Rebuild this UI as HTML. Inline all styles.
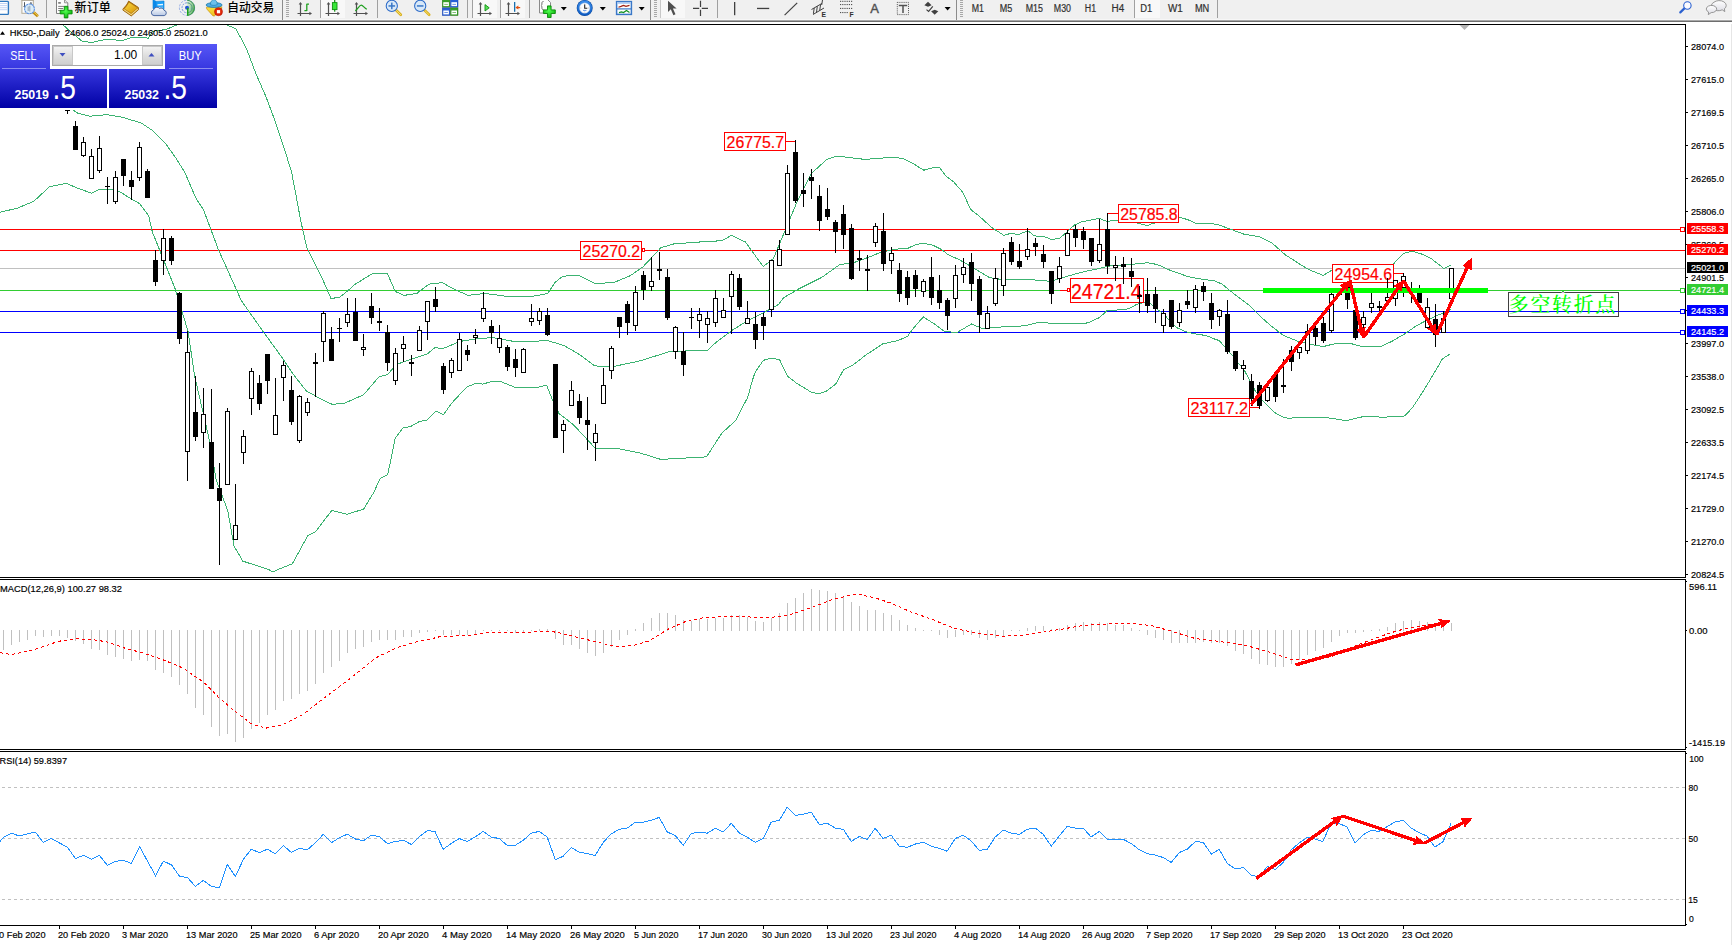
<!DOCTYPE html>
<html><head><meta charset="utf-8"><title>HK50-,Daily</title>
<style>
html,body{margin:0;padding:0;background:#fff;}
body{width:1732px;height:945px;overflow:hidden;position:relative;}
svg{position:absolute;left:0;top:0;display:block;font-family:'Liberation Sans','Noto Sans CJK SC',sans-serif;}
</style></head>
<body>
<svg width="1732" height="945" viewBox="0 0 1732 945">
<defs>
<clipPath id="mainclip"><rect x="0" y="25" width="1685" height="552"/></clipPath>
<clipPath id="macdclip"><rect x="0" y="580" width="1685" height="169"/></clipPath>
<clipPath id="rsiclip"><rect x="0" y="752" width="1685" height="173"/></clipPath>
<linearGradient id="pg" x1="0" y1="0" x2="0" y2="1"><stop offset="0" stop-color="#5656f6"/><stop offset="0.35" stop-color="#3a3ae2"/><stop offset="1" stop-color="#0000a4"/></linearGradient>
<linearGradient id="bg" x1="0" y1="0" x2="0" y2="1"><stop offset="0" stop-color="#f4f4f4"/><stop offset="0.5" stop-color="#dedede"/><stop offset="1" stop-color="#cfcfcf"/></linearGradient>
<linearGradient id="gbook" x1="0" y1="0" x2="1" y2="1"><stop offset="0" stop-color="#f8d840"/><stop offset="1" stop-color="#d89408"/></linearGradient>
<linearGradient id="gcloud" x1="0" y1="0" x2="0" y2="1"><stop offset="0" stop-color="#ffffff"/><stop offset="1" stop-color="#b8c8e4"/></linearGradient>
<linearGradient id="gsig" x1="0" y1="0" x2="1" y2="0.6"><stop offset="0" stop-color="#e8f4e8" stop-opacity="0.6"/><stop offset="1" stop-color="#48a850"/></linearGradient>
<linearGradient id="gface" x1="0" y1="0" x2="0.3" y2="1"><stop offset="0" stop-color="#f8e448"/><stop offset="1" stop-color="#f0c020"/></linearGradient>
<linearGradient id="gclock" x1="0" y1="0" x2="0" y2="1"><stop offset="0" stop-color="#3a90f0"/><stop offset="1" stop-color="#0c58c0"/></linearGradient>
<linearGradient id="gbub" x1="0" y1="0" x2="0" y2="1"><stop offset="0" stop-color="#ffffff"/><stop offset="1" stop-color="#dcdce4"/></linearGradient>
<radialGradient id="gplus" cx="0.45" cy="0.4" r="0.6"><stop offset="0" stop-color="#50ff50"/><stop offset="1" stop-color="#10b810"/></radialGradient>
</defs>
<rect x="0" y="0" width="1732" height="945" fill="#fff"/>
<g clip-path="url(#mainclip)">
<g shape-rendering="crispEdges">
<rect x="0" y="229" width="1685" height="1" fill="#ff0000" />
<rect x="0" y="250" width="1685" height="1" fill="#ff0000" />
<rect x="0" y="268" width="1685" height="1" fill="#c0c0c0" />
<rect x="0" y="290" width="1685" height="1" fill="#32cd32" />
<rect x="0" y="311" width="1685" height="1" fill="#0000ff" />
<rect x="0" y="332" width="1685" height="1" fill="#0000ff" />
</g>
<g shape-rendering="crispEdges">
<polyline points="50,10 62.9,24.8 72.4,33.3 81.9,41 91.5,42.5 106.7,39.1 121.9,40.6 133.4,37.1 148.6,38.1 152.4,31.4 165.8,29.5 177.2,24.8 200,12 226.6,25 235.7,28.5 246.3,48.2 255.4,72.4 265.9,96.6 275,120.8 284.1,148 291.6,172.2 296.2,196.4 300.7,220.6 306.8,247.8 314.3,262.9 323.4,281 331,298.6 340,297.1 348.1,290.5 354.6,284.6 372.3,273.6 387.5,273.6 395.2,291.4 404.1,295.4 417,293.3 428.8,284.2 442.3,282.6 452.4,288.4 467.7,295.3 485.5,293.5 508.3,296.6 531.2,296.6 547.7,293.5 555.3,282.1 563,276.2 578.2,275.2 596,283.9 615,282.1 630.3,275.7 643,266.8 660.8,247.8 673.5,244 696.3,242.2 721.7,240.7 731.6,235.3 745.4,242 763.2,266.6 773.4,258.5 783.5,234.3 796.2,203.8 811.5,173.4 826.7,159.4 836.9,156.1 864.8,159.4 877.5,158.5 880,158.7 887.6,157.1 895.2,157.1 904.1,159.1 913,163.5 923.8,170.2 930.8,168.2 939.1,167.1 946,176.2 953.7,181.9 962.6,192.1 970.8,209.6 977.8,214.9 991.8,227.6 1003.8,235.3 1010.8,233.4 1018.4,234.6 1028,230.8 1034.3,235.9 1043.8,236.5 1051.5,239.5 1059.7,238.2 1065.4,233.4 1074.3,225.1 1082,221.7 1090.8,220 1099.8,218.4 1103.1,220 1107.8,221.8 1112,220.5 1118,220.5 1128,221.5 1138.2,223.3 1143.1,224.6 1147.3,225.7 1151.5,223.8 1154,223.3 1165,219.5 1179,217.3 1184.2,218.6 1190,220.5 1196.1,223.4 1216.4,224.1 1229.1,228.7 1244.3,234.3 1259.6,236.8 1272.3,243.2 1285,254.6 1302.8,266.1 1310,270.1 1323.2,275.4 1331.2,270.6 1345,268 1360,272 1375,272 1393.6,263.8 1403.1,253.7 1411.6,251.1 1422.2,254.2 1431.7,259 1443.9,268.5 1450.7,265.3" fill="none" stroke="#3cb371" stroke-width="1" />
<polyline points="73,110 78.1,113.4 89.6,116.2 106.7,114.7 122,117.2 141,122.9 152.4,130.5 165.8,143.9 175.3,157.2 184.8,172.4 196.3,199.1 203.3,209.2 218.5,249.9 241.4,300.7 262,330 282.3,357.9 292.4,373.2 306.4,391 317.8,397.3 331.8,404.2 343.3,403.7 363.6,394.8 378.8,377 387.7,374.5 396.6,364.3 411.8,359.2 427.1,354.1 434.7,347.8 443.6,348.3 460.1,341.4 475.4,338.9 491.9,337.6 500.8,338.9 516,341.9 531.3,341.9 546.5,340.2 564.2,345.6 579.5,354.5 594.7,365.9 612.5,366.7 640.4,360.8 668.4,351.9 691.3,350.7 707.6,350.4 716.5,341.9 731.8,330.5 747,321 763.5,312.7 778.7,304.4 783.5,297.8 798.8,288.9 821.6,277.5 839.4,264.8 854.7,262.3 872.4,255.9 880,252.4 895.2,249.2 907.9,248.3 914.3,245.2 923.2,243.1 933.3,245.4 941,249.2 948.6,255 958.8,259.4 963.9,262.3 976.6,269.9 989.3,277.5 1004.6,280 1019.8,279.5 1035,280 1050.3,281.3 1063,277.5 1080.8,272.4 1098.6,268.6 1108.7,266.1 1126.5,264.8 1146.8,262.8 1152.9,263.5 1161,266 1169.4,270 1178.9,273.2 1187.4,276.6 1201.1,279 1214.9,280.9 1222.3,284.3 1230.7,291.2 1240.3,298.6 1248.7,304.9 1259.3,315.5 1270,325 1283.4,335.5 1298.5,341.5 1311.5,344.6 1323.1,346.6 1335.7,343.5 1351.3,343.7 1362.9,346.8 1382,346.1 1392.5,341 1405.2,333.6 1415.8,326.2 1426.4,320.4 1437,315.6 1444.4,312.4 1450.7,309.8" fill="none" stroke="#3cb371" stroke-width="1" />
<polyline points="0,212.3 17.8,208 33,201.6 36.2,199.1 49.5,186.7 66.7,183.3 76.2,187.7 91.5,193.1 99.1,189.6 114.3,189.2 119.4,191.5 131.5,199.1 139.7,203.7 148.6,215.6 152.4,232.1 162.6,257.5 175.3,289.3 188,331.2 194.6,375.7 208.6,436.7 216.2,479.9 227.7,510.4 234,546 242.9,561.2 268.3,569.3 273,572 278.5,569.3 292.4,563.7 307.7,535.8 315.3,532 331.8,510.4 347.1,514.2 363.6,509.1 373.7,492.6 380.1,478.6 387.7,474.8 395.3,438 403,427.8 410.6,426.5 419.5,421.5 427.1,420.2 436,411.3 443.6,414.6 451.2,403.7 466.5,387.2 475.4,383.4 483,384.1 491.9,381.3 500.8,381.6 514.8,387.2 536.3,387.7 546.5,385.1 552.9,401.1 559.2,413.8 573.1,424.4 596,449 615,448 640.4,453.1 660.8,459.4 706.5,456.9 721.7,433.3 736.2,420 741.9,408 747.6,397.8 752.1,381.3 754.6,373.7 758.4,367.3 763.5,360.3 769.9,358.4 779.4,359.3 787.6,376.2 796.5,383.2 811.8,392.5 819.4,393.6 827,390.8 835.9,383.8 843.5,369.9 852.4,365.4 866.4,354.6 882.9,343.8 898.1,340.6 907.7,336.2 912.1,329.8 923.3,316.9 933.4,323.3 943.6,330.9 956.3,332.9 971.5,324 981.7,328.3 999.5,327.1 1024.9,325.8 1037.6,322.7 1057.9,323.3 1083.3,324 1090,321.9 1099.5,317.6 1106.9,310.7 1126,309.4 1132.3,307 1136.6,304.4 1142.9,302.8 1145,302.3 1150.3,303.3 1157.7,309.7 1164.1,314.4 1170.4,321.9 1176.8,327.7 1185.2,331.4 1192.6,333.5 1206.4,335.6 1215,339.2 1219,340.5 1225.1,347.1 1232.1,355.1 1239.1,364.2 1243.7,369.2 1249.7,380.2 1255.2,390.8 1262.3,400.4 1269.3,407.4 1275.3,412.9 1283.4,417.4 1289.4,418.5 1295.4,417.4 1325.6,417.4 1335.7,419 1346,420.7 1363.7,416.5 1384.1,417.2 1404.4,416 1412,408.3 1419.6,396.9 1429.8,380.4 1442.5,358.8 1450.6,353.7" fill="none" stroke="#3cb371" stroke-width="1" />
</g>
<rect x="786" y="141" width="10" height="1" fill="#ff0000" shape-rendering="crispEdges"/>
<rect x="724.5" y="132.5" width="61" height="18" fill="#fff" stroke="#ff0000" stroke-width="1" shape-rendering="crispEdges"/>
<text x="726.6" y="148" font-size="16.8" fill="#ff0000" text-anchor="start" textLength="57.5" lengthAdjust="spacingAndGlyphs" stroke="#ff0000" stroke-width="0.2">26775.7</text>
<rect x="580.5" y="241.5" width="61" height="18" fill="#fff" stroke="#ff0000" stroke-width="1" shape-rendering="crispEdges"/>
<text x="582.6" y="257" font-size="16.8" fill="#ff0000" text-anchor="start" textLength="57.5" lengthAdjust="spacingAndGlyphs" stroke="#ff0000" stroke-width="0.2">25270.2</text>
<rect x="1108" y="213" width="10" height="1" fill="#ff0000" shape-rendering="crispEdges"/>
<rect x="1118.5" y="204.5" width="60" height="18" fill="#fff" stroke="#ff0000" stroke-width="1" shape-rendering="crispEdges"/>
<text x="1120.2" y="220" font-size="16.8" fill="#ff0000" text-anchor="start" textLength="57.5" lengthAdjust="spacingAndGlyphs" stroke="#ff0000" stroke-width="0.2">25785.8</text>
<rect x="1250" y="407" width="10" height="1" fill="#ff0000" shape-rendering="crispEdges"/>
<rect x="1188.5" y="398.5" width="61" height="18" fill="#fff" stroke="#ff0000" stroke-width="1" shape-rendering="crispEdges"/>
<text x="1190.6" y="414" font-size="16.8" fill="#ff0000" text-anchor="start" textLength="57.5" lengthAdjust="spacingAndGlyphs" stroke="#ff0000" stroke-width="0.2">23117.2</text>
<rect x="1394" y="273" width="10" height="1" fill="#ff0000" shape-rendering="crispEdges"/>
<rect x="1332.5" y="264.5" width="61" height="18" fill="#fff" stroke="#ff0000" stroke-width="1" shape-rendering="crispEdges"/>
<text x="1334.6" y="280" font-size="16.8" fill="#ff0000" text-anchor="start" textLength="57.5" lengthAdjust="spacingAndGlyphs" stroke="#ff0000" stroke-width="0.2">24954.6</text>
<rect x="1060" y="290" width="8" height="1" fill="#ff0000" shape-rendering="crispEdges"/>
<rect x="1067.5" y="288.5" width="2" height="3" fill="#fff" stroke="#ff0000" shape-rendering="crispEdges"/>
<rect x="1070.5" y="278.5" width="73" height="24" fill="#fff" stroke="#ff0000" stroke-width="1" shape-rendering="crispEdges"/>
<text x="1071.0" y="298.7" font-size="21.9" fill="#ff0000" text-anchor="start" textLength="70.5" lengthAdjust="spacingAndGlyphs" stroke="#ff0000" stroke-width="0.2">24721.4</text>
<rect x="642.5" y="248.5" width="2" height="3" fill="#fff" stroke="#ff0000" shape-rendering="crispEdges"/>
<g shape-rendering="crispEdges">
<rect x="67" y="110" width="1" height="4" fill="#000" />
<rect x="65" y="110" width="5" height="1" fill="#000" />
<rect x="75" y="121" width="1" height="29" fill="#000" />
<rect x="73" y="126" width="5" height="24" fill="#000" />
<rect x="83" y="137" width="1" height="20" fill="#000" />
<rect x="81" y="142" width="5" height="14" fill="#000" />
<rect x="82" y="143" width="3" height="12" fill="#fff" />
<rect x="91" y="149" width="1" height="30" fill="#000" />
<rect x="89" y="156" width="5" height="23" fill="#000" />
<rect x="90" y="157" width="3" height="21" fill="#fff" />
<rect x="99" y="136" width="1" height="37" fill="#000" />
<rect x="97" y="148" width="5" height="23" fill="#000" />
<rect x="98" y="149" width="3" height="21" fill="#fff" />
<rect x="107" y="177" width="1" height="27" fill="#000" />
<rect x="105" y="186" width="5" height="1" fill="#000" />
<rect x="115" y="171" width="1" height="33" fill="#000" />
<rect x="113" y="177" width="5" height="25" fill="#000" />
<rect x="114" y="178" width="3" height="23" fill="#fff" />
<rect x="123" y="159" width="1" height="27" fill="#000" />
<rect x="121" y="159" width="5" height="17" fill="#000" />
<rect x="131" y="171" width="1" height="29" fill="#000" />
<rect x="129" y="180" width="5" height="7" fill="#000" />
<rect x="139" y="142" width="1" height="39" fill="#000" />
<rect x="137" y="147" width="5" height="31" fill="#000" />
<rect x="138" y="148" width="3" height="29" fill="#fff" />
<rect x="147" y="169" width="1" height="29" fill="#000" />
<rect x="145" y="171" width="5" height="27" fill="#000" />
<rect x="155" y="250" width="1" height="36" fill="#000" />
<rect x="153" y="260" width="5" height="22" fill="#000" />
<rect x="163" y="229" width="1" height="46" fill="#000" />
<rect x="161" y="238" width="5" height="23" fill="#000" />
<rect x="162" y="239" width="3" height="21" fill="#fff" />
<rect x="171" y="236" width="1" height="29" fill="#000" />
<rect x="169" y="238" width="5" height="23" fill="#000" />
<rect x="179" y="292" width="1" height="52" fill="#000" />
<rect x="177" y="293" width="5" height="46" fill="#000" />
<rect x="187" y="331" width="1" height="150" fill="#000" />
<rect x="185" y="352" width="5" height="100" fill="#000" />
<rect x="186" y="353" width="3" height="98" fill="#fff" />
<rect x="195" y="376" width="1" height="65" fill="#000" />
<rect x="193" y="412" width="5" height="25" fill="#000" />
<rect x="203" y="388" width="1" height="60" fill="#000" />
<rect x="201" y="414" width="5" height="19" fill="#000" />
<rect x="202" y="415" width="3" height="17" fill="#fff" />
<rect x="211" y="389" width="1" height="100" fill="#000" />
<rect x="209" y="442" width="5" height="47" fill="#000" />
<rect x="219" y="463" width="1" height="102" fill="#000" />
<rect x="217" y="488" width="5" height="13" fill="#000" />
<rect x="227" y="408" width="1" height="77" fill="#000" />
<rect x="225" y="411" width="5" height="74" fill="#000" />
<rect x="226" y="412" width="3" height="72" fill="#fff" />
<rect x="235" y="484" width="1" height="56" fill="#000" />
<rect x="233" y="525" width="5" height="15" fill="#000" />
<rect x="234" y="526" width="3" height="13" fill="#fff" />
<rect x="243" y="430" width="1" height="34" fill="#000" />
<rect x="241" y="436" width="5" height="17" fill="#000" />
<rect x="242" y="437" width="3" height="15" fill="#fff" />
<rect x="251" y="368" width="1" height="47" fill="#000" />
<rect x="249" y="371" width="5" height="28" fill="#000" />
<rect x="250" y="372" width="3" height="26" fill="#fff" />
<rect x="259" y="375" width="1" height="35" fill="#000" />
<rect x="257" y="383" width="5" height="21" fill="#000" />
<rect x="267" y="354" width="1" height="40" fill="#000" />
<rect x="265" y="354" width="5" height="27" fill="#000" />
<rect x="275" y="378" width="1" height="57" fill="#000" />
<rect x="273" y="415" width="5" height="20" fill="#000" />
<rect x="274" y="416" width="3" height="18" fill="#fff" />
<rect x="283" y="361" width="1" height="40" fill="#000" />
<rect x="281" y="365" width="5" height="13" fill="#000" />
<rect x="282" y="366" width="3" height="11" fill="#fff" />
<rect x="291" y="376" width="1" height="49" fill="#000" />
<rect x="289" y="390" width="5" height="32" fill="#000" />
<rect x="299" y="395" width="1" height="48" fill="#000" />
<rect x="297" y="396" width="5" height="45" fill="#000" />
<rect x="298" y="397" width="3" height="43" fill="#fff" />
<rect x="307" y="398" width="1" height="18" fill="#000" />
<rect x="305" y="402" width="5" height="11" fill="#000" />
<rect x="306" y="403" width="3" height="9" fill="#fff" />
<rect x="315" y="353" width="1" height="44" fill="#000" />
<rect x="313" y="362" width="5" height="2" fill="#000" />
<rect x="323" y="311" width="1" height="51" fill="#000" />
<rect x="321" y="313" width="5" height="29" fill="#000" />
<rect x="322" y="314" width="3" height="27" fill="#fff" />
<rect x="331" y="327" width="1" height="34" fill="#000" />
<rect x="329" y="339" width="5" height="22" fill="#000" />
<rect x="339" y="318" width="1" height="24" fill="#000" />
<rect x="337" y="328" width="5" height="1" fill="#000" />
<rect x="347" y="298" width="1" height="29" fill="#000" />
<rect x="345" y="314" width="5" height="9" fill="#000" />
<rect x="346" y="315" width="3" height="7" fill="#fff" />
<rect x="355" y="298" width="1" height="43" fill="#000" />
<rect x="353" y="312" width="5" height="29" fill="#000" />
<rect x="363" y="334" width="1" height="22" fill="#000" />
<rect x="361" y="347" width="5" height="3" fill="#000" />
<rect x="362" y="348" width="3" height="1" fill="#fff" />
<rect x="371" y="293" width="1" height="31" fill="#000" />
<rect x="369" y="306" width="5" height="12" fill="#000" />
<rect x="379" y="308" width="1" height="23" fill="#000" />
<rect x="377" y="321" width="5" height="2" fill="#000" />
<rect x="387" y="325" width="1" height="46" fill="#000" />
<rect x="385" y="332" width="5" height="31" fill="#000" />
<rect x="395" y="348" width="1" height="37" fill="#000" />
<rect x="393" y="353" width="5" height="28" fill="#000" />
<rect x="394" y="354" width="3" height="26" fill="#fff" />
<rect x="403" y="336" width="1" height="26" fill="#000" />
<rect x="401" y="344" width="5" height="5" fill="#000" />
<rect x="402" y="345" width="3" height="3" fill="#fff" />
<rect x="411" y="355" width="1" height="21" fill="#000" />
<rect x="409" y="362" width="5" height="2" fill="#000" />
<rect x="419" y="326" width="1" height="25" fill="#000" />
<rect x="417" y="330" width="5" height="21" fill="#000" />
<rect x="418" y="331" width="3" height="19" fill="#fff" />
<rect x="427" y="301" width="1" height="39" fill="#000" />
<rect x="425" y="301" width="5" height="21" fill="#000" />
<rect x="426" y="302" width="3" height="19" fill="#fff" />
<rect x="435" y="287" width="1" height="25" fill="#000" />
<rect x="433" y="299" width="5" height="8" fill="#000" />
<rect x="443" y="363" width="1" height="31" fill="#000" />
<rect x="441" y="366" width="5" height="24" fill="#000" />
<rect x="451" y="358" width="1" height="20" fill="#000" />
<rect x="449" y="360" width="5" height="13" fill="#000" />
<rect x="450" y="361" width="3" height="11" fill="#fff" />
<rect x="459" y="333" width="1" height="38" fill="#000" />
<rect x="457" y="339" width="5" height="32" fill="#000" />
<rect x="458" y="340" width="3" height="30" fill="#fff" />
<rect x="467" y="345" width="1" height="16" fill="#000" />
<rect x="465" y="350" width="5" height="5" fill="#000" />
<rect x="475" y="329" width="1" height="15" fill="#000" />
<rect x="473" y="335" width="5" height="3" fill="#000" />
<rect x="474" y="336" width="3" height="1" fill="#fff" />
<rect x="483" y="292" width="1" height="30" fill="#000" />
<rect x="481" y="308" width="5" height="11" fill="#000" />
<rect x="482" y="309" width="3" height="9" fill="#fff" />
<rect x="491" y="320" width="1" height="24" fill="#000" />
<rect x="489" y="326" width="5" height="7" fill="#000" />
<rect x="499" y="325" width="1" height="28" fill="#000" />
<rect x="497" y="338" width="5" height="10" fill="#000" />
<rect x="498" y="339" width="3" height="8" fill="#fff" />
<rect x="507" y="345" width="1" height="26" fill="#000" />
<rect x="505" y="347" width="5" height="20" fill="#000" />
<rect x="515" y="349" width="1" height="28" fill="#000" />
<rect x="513" y="359" width="5" height="9" fill="#000" />
<rect x="523" y="348" width="1" height="25" fill="#000" />
<rect x="521" y="349" width="5" height="24" fill="#000" />
<rect x="522" y="350" width="3" height="22" fill="#fff" />
<rect x="531" y="304" width="1" height="22" fill="#000" />
<rect x="529" y="318" width="5" height="4" fill="#000" />
<rect x="530" y="319" width="3" height="2" fill="#fff" />
<rect x="539" y="308" width="1" height="17" fill="#000" />
<rect x="537" y="311" width="5" height="10" fill="#000" />
<rect x="538" y="312" width="3" height="8" fill="#fff" />
<rect x="547" y="308" width="1" height="28" fill="#000" />
<rect x="545" y="315" width="5" height="20" fill="#000" />
<rect x="555" y="364" width="1" height="74" fill="#000" />
<rect x="553" y="364" width="5" height="74" fill="#000" />
<rect x="563" y="420" width="1" height="33" fill="#000" />
<rect x="561" y="424" width="5" height="7" fill="#000" />
<rect x="562" y="425" width="3" height="5" fill="#fff" />
<rect x="571" y="381" width="1" height="25" fill="#000" />
<rect x="569" y="390" width="5" height="16" fill="#000" />
<rect x="570" y="391" width="3" height="14" fill="#fff" />
<rect x="579" y="394" width="1" height="30" fill="#000" />
<rect x="577" y="401" width="5" height="17" fill="#000" />
<rect x="587" y="397" width="1" height="53" fill="#000" />
<rect x="585" y="420" width="5" height="5" fill="#000" />
<rect x="595" y="424" width="1" height="37" fill="#000" />
<rect x="593" y="433" width="5" height="10" fill="#000" />
<rect x="594" y="434" width="3" height="8" fill="#fff" />
<rect x="603" y="368" width="1" height="36" fill="#000" />
<rect x="601" y="385" width="5" height="19" fill="#000" />
<rect x="602" y="386" width="3" height="17" fill="#fff" />
<rect x="611" y="346" width="1" height="33" fill="#000" />
<rect x="609" y="348" width="5" height="23" fill="#000" />
<rect x="610" y="349" width="3" height="21" fill="#fff" />
<rect x="619" y="317" width="1" height="21" fill="#000" />
<rect x="617" y="317" width="5" height="10" fill="#000" />
<rect x="627" y="301" width="1" height="34" fill="#000" />
<rect x="625" y="304" width="5" height="19" fill="#000" />
<rect x="635" y="286" width="1" height="45" fill="#000" />
<rect x="633" y="292" width="5" height="34" fill="#000" />
<rect x="634" y="293" width="3" height="32" fill="#fff" />
<rect x="643" y="271" width="1" height="29" fill="#000" />
<rect x="641" y="275" width="5" height="15" fill="#000" />
<rect x="651" y="257" width="1" height="34" fill="#000" />
<rect x="649" y="281" width="5" height="6" fill="#000" />
<rect x="650" y="282" width="3" height="4" fill="#fff" />
<rect x="659" y="252" width="1" height="28" fill="#000" />
<rect x="657" y="269" width="5" height="2" fill="#000" />
<rect x="667" y="269" width="1" height="51" fill="#000" />
<rect x="665" y="277" width="5" height="41" fill="#000" />
<rect x="675" y="326" width="1" height="33" fill="#000" />
<rect x="673" y="327" width="5" height="25" fill="#000" />
<rect x="674" y="328" width="3" height="23" fill="#fff" />
<rect x="683" y="332" width="1" height="44" fill="#000" />
<rect x="681" y="351" width="5" height="14" fill="#000" />
<rect x="691" y="308" width="1" height="21" fill="#000" />
<rect x="689" y="317" width="5" height="1" fill="#000" />
<rect x="699" y="308" width="1" height="30" fill="#000" />
<rect x="697" y="314" width="5" height="7" fill="#000" />
<rect x="698" y="315" width="3" height="5" fill="#fff" />
<rect x="707" y="311" width="1" height="32" fill="#000" />
<rect x="705" y="318" width="5" height="7" fill="#000" />
<rect x="706" y="319" width="3" height="5" fill="#fff" />
<rect x="715" y="290" width="1" height="37" fill="#000" />
<rect x="713" y="298" width="5" height="25" fill="#000" />
<rect x="714" y="299" width="3" height="23" fill="#fff" />
<rect x="723" y="298" width="1" height="20" fill="#000" />
<rect x="721" y="310" width="5" height="8" fill="#000" />
<rect x="722" y="311" width="3" height="6" fill="#fff" />
<rect x="731" y="271" width="1" height="63" fill="#000" />
<rect x="729" y="274" width="5" height="23" fill="#000" />
<rect x="730" y="275" width="3" height="21" fill="#fff" />
<rect x="739" y="274" width="1" height="36" fill="#000" />
<rect x="737" y="278" width="5" height="29" fill="#000" />
<rect x="747" y="301" width="1" height="23" fill="#000" />
<rect x="745" y="318" width="5" height="6" fill="#000" />
<rect x="746" y="319" width="3" height="4" fill="#fff" />
<rect x="755" y="312" width="1" height="37" fill="#000" />
<rect x="753" y="324" width="5" height="16" fill="#000" />
<rect x="763" y="313" width="1" height="27" fill="#000" />
<rect x="761" y="317" width="5" height="9" fill="#000" />
<rect x="771" y="260" width="1" height="57" fill="#000" />
<rect x="769" y="260" width="5" height="50" fill="#000" />
<rect x="770" y="261" width="3" height="48" fill="#fff" />
<rect x="779" y="240" width="1" height="26" fill="#000" />
<rect x="777" y="249" width="5" height="17" fill="#000" />
<rect x="778" y="250" width="3" height="15" fill="#fff" />
<rect x="787" y="165" width="1" height="70" fill="#000" />
<rect x="785" y="173" width="5" height="62" fill="#000" />
<rect x="786" y="174" width="3" height="60" fill="#fff" />
<rect x="795" y="140" width="1" height="63" fill="#000" />
<rect x="793" y="152" width="5" height="49" fill="#000" />
<rect x="803" y="173" width="1" height="34" fill="#000" />
<rect x="801" y="190" width="5" height="4" fill="#000" />
<rect x="811" y="169" width="1" height="30" fill="#000" />
<rect x="809" y="177" width="5" height="4" fill="#000" />
<rect x="819" y="185" width="1" height="46" fill="#000" />
<rect x="817" y="196" width="5" height="25" fill="#000" />
<rect x="827" y="188" width="1" height="32" fill="#000" />
<rect x="825" y="209" width="5" height="8" fill="#000" />
<rect x="835" y="220" width="1" height="33" fill="#000" />
<rect x="833" y="222" width="5" height="10" fill="#000" />
<rect x="843" y="205" width="1" height="44" fill="#000" />
<rect x="841" y="214" width="5" height="21" fill="#000" />
<rect x="851" y="224" width="1" height="56" fill="#000" />
<rect x="849" y="228" width="5" height="51" fill="#000" />
<rect x="859" y="250" width="1" height="21" fill="#000" />
<rect x="857" y="258" width="5" height="2" fill="#000" />
<rect x="867" y="255" width="1" height="36" fill="#000" />
<rect x="865" y="269" width="5" height="2" fill="#000" />
<rect x="875" y="223" width="1" height="24" fill="#000" />
<rect x="873" y="226" width="5" height="17" fill="#000" />
<rect x="874" y="227" width="3" height="15" fill="#fff" />
<rect x="883" y="213" width="1" height="58" fill="#000" />
<rect x="881" y="231" width="5" height="33" fill="#000" />
<rect x="891" y="247" width="1" height="27" fill="#000" />
<rect x="889" y="253" width="5" height="8" fill="#000" />
<rect x="890" y="254" width="3" height="6" fill="#fff" />
<rect x="899" y="263" width="1" height="39" fill="#000" />
<rect x="897" y="270" width="5" height="24" fill="#000" />
<rect x="907" y="271" width="1" height="34" fill="#000" />
<rect x="905" y="277" width="5" height="21" fill="#000" />
<rect x="915" y="270" width="1" height="27" fill="#000" />
<rect x="913" y="275" width="5" height="14" fill="#000" />
<rect x="923" y="279" width="1" height="18" fill="#000" />
<rect x="921" y="281" width="5" height="11" fill="#000" />
<rect x="922" y="282" width="3" height="9" fill="#fff" />
<rect x="931" y="257" width="1" height="48" fill="#000" />
<rect x="929" y="277" width="5" height="21" fill="#000" />
<rect x="939" y="275" width="1" height="34" fill="#000" />
<rect x="937" y="290" width="5" height="13" fill="#000" />
<rect x="947" y="298" width="1" height="32" fill="#000" />
<rect x="945" y="300" width="5" height="16" fill="#000" />
<rect x="955" y="265" width="1" height="43" fill="#000" />
<rect x="953" y="275" width="5" height="24" fill="#000" />
<rect x="954" y="276" width="3" height="22" fill="#fff" />
<rect x="963" y="258" width="1" height="25" fill="#000" />
<rect x="961" y="267" width="5" height="8" fill="#000" />
<rect x="962" y="268" width="3" height="6" fill="#fff" />
<rect x="971" y="253" width="1" height="48" fill="#000" />
<rect x="969" y="262" width="5" height="22" fill="#000" />
<rect x="979" y="276" width="1" height="57" fill="#000" />
<rect x="977" y="279" width="5" height="36" fill="#000" />
<rect x="987" y="306" width="1" height="23" fill="#000" />
<rect x="985" y="313" width="5" height="16" fill="#000" />
<rect x="986" y="314" width="3" height="14" fill="#fff" />
<rect x="995" y="268" width="1" height="38" fill="#000" />
<rect x="993" y="278" width="5" height="26" fill="#000" />
<rect x="994" y="279" width="3" height="24" fill="#fff" />
<rect x="1003" y="248" width="1" height="48" fill="#000" />
<rect x="1001" y="253" width="5" height="33" fill="#000" />
<rect x="1002" y="254" width="3" height="31" fill="#fff" />
<rect x="1011" y="237" width="1" height="28" fill="#000" />
<rect x="1009" y="242" width="5" height="20" fill="#000" />
<rect x="1019" y="244" width="1" height="25" fill="#000" />
<rect x="1017" y="261" width="5" height="6" fill="#000" />
<rect x="1027" y="228" width="1" height="32" fill="#000" />
<rect x="1025" y="249" width="5" height="8" fill="#000" />
<rect x="1026" y="250" width="3" height="6" fill="#fff" />
<rect x="1035" y="238" width="1" height="18" fill="#000" />
<rect x="1033" y="243" width="5" height="4" fill="#000" />
<rect x="1043" y="245" width="1" height="23" fill="#000" />
<rect x="1041" y="254" width="5" height="8" fill="#000" />
<rect x="1051" y="271" width="1" height="33" fill="#000" />
<rect x="1049" y="271" width="5" height="23" fill="#000" />
<rect x="1059" y="257" width="1" height="26" fill="#000" />
<rect x="1057" y="266" width="5" height="13" fill="#000" />
<rect x="1058" y="267" width="3" height="11" fill="#fff" />
<rect x="1067" y="230" width="1" height="26" fill="#000" />
<rect x="1065" y="233" width="5" height="23" fill="#000" />
<rect x="1066" y="234" width="3" height="21" fill="#fff" />
<rect x="1075" y="225" width="1" height="22" fill="#000" />
<rect x="1073" y="229" width="5" height="9" fill="#000" />
<rect x="1083" y="227" width="1" height="22" fill="#000" />
<rect x="1081" y="231" width="5" height="9" fill="#000" />
<rect x="1091" y="238" width="1" height="28" fill="#000" />
<rect x="1089" y="238" width="5" height="24" fill="#000" />
<rect x="1099" y="219" width="1" height="44" fill="#000" />
<rect x="1097" y="244" width="5" height="17" fill="#000" />
<rect x="1098" y="245" width="3" height="15" fill="#fff" />
<rect x="1107" y="213" width="1" height="61" fill="#000" />
<rect x="1105" y="229" width="5" height="37" fill="#000" />
<rect x="1115" y="256" width="1" height="25" fill="#000" />
<rect x="1113" y="265" width="5" height="3" fill="#000" />
<rect x="1114" y="266" width="3" height="1" fill="#fff" />
<rect x="1123" y="257" width="1" height="27" fill="#000" />
<rect x="1121" y="264" width="5" height="3" fill="#000" />
<rect x="1131" y="258" width="1" height="29" fill="#000" />
<rect x="1129" y="271" width="5" height="6" fill="#000" />
<rect x="1139" y="286" width="1" height="27" fill="#000" />
<rect x="1137" y="295" width="5" height="2" fill="#000" />
<rect x="1147" y="278" width="1" height="35" fill="#000" />
<rect x="1145" y="294" width="5" height="12" fill="#000" />
<rect x="1155" y="287" width="1" height="36" fill="#000" />
<rect x="1153" y="294" width="5" height="15" fill="#000" />
<rect x="1163" y="309" width="1" height="24" fill="#000" />
<rect x="1161" y="313" width="5" height="13" fill="#000" />
<rect x="1162" y="314" width="3" height="11" fill="#fff" />
<rect x="1171" y="300" width="1" height="29" fill="#000" />
<rect x="1169" y="300" width="5" height="27" fill="#000" />
<rect x="1179" y="303" width="1" height="24" fill="#000" />
<rect x="1177" y="310" width="5" height="13" fill="#000" />
<rect x="1178" y="311" width="3" height="11" fill="#fff" />
<rect x="1187" y="290" width="1" height="19" fill="#000" />
<rect x="1185" y="301" width="5" height="4" fill="#000" />
<rect x="1195" y="285" width="1" height="28" fill="#000" />
<rect x="1193" y="289" width="5" height="19" fill="#000" />
<rect x="1194" y="290" width="3" height="17" fill="#fff" />
<rect x="1203" y="282" width="1" height="19" fill="#000" />
<rect x="1201" y="286" width="5" height="6" fill="#000" />
<rect x="1211" y="293" width="1" height="36" fill="#000" />
<rect x="1209" y="303" width="5" height="17" fill="#000" />
<rect x="1219" y="309" width="1" height="17" fill="#000" />
<rect x="1217" y="310" width="5" height="7" fill="#000" />
<rect x="1218" y="311" width="3" height="5" fill="#fff" />
<rect x="1227" y="300" width="1" height="54" fill="#000" />
<rect x="1225" y="314" width="5" height="38" fill="#000" />
<rect x="1235" y="351" width="1" height="20" fill="#000" />
<rect x="1233" y="351" width="5" height="18" fill="#000" />
<rect x="1243" y="360" width="1" height="20" fill="#000" />
<rect x="1241" y="365" width="5" height="4" fill="#000" />
<rect x="1242" y="366" width="3" height="2" fill="#fff" />
<rect x="1251" y="374" width="1" height="32" fill="#000" />
<rect x="1249" y="381" width="5" height="18" fill="#000" />
<rect x="1259" y="382" width="1" height="27" fill="#000" />
<rect x="1257" y="385" width="5" height="21" fill="#000" />
<rect x="1267" y="387" width="1" height="15" fill="#000" />
<rect x="1265" y="387" width="5" height="14" fill="#000" />
<rect x="1266" y="388" width="3" height="12" fill="#fff" />
<rect x="1275" y="372" width="1" height="30" fill="#000" />
<rect x="1273" y="374" width="5" height="23" fill="#000" />
<rect x="1283" y="359" width="1" height="34" fill="#000" />
<rect x="1281" y="385" width="5" height="2" fill="#000" />
<rect x="1291" y="346" width="1" height="25" fill="#000" />
<rect x="1289" y="350" width="5" height="12" fill="#000" />
<rect x="1299" y="347" width="1" height="12" fill="#000" />
<rect x="1297" y="347" width="5" height="6" fill="#000" />
<rect x="1298" y="348" width="3" height="4" fill="#fff" />
<rect x="1307" y="324" width="1" height="30" fill="#000" />
<rect x="1305" y="331" width="5" height="20" fill="#000" />
<rect x="1306" y="332" width="3" height="18" fill="#fff" />
<rect x="1315" y="323" width="1" height="22" fill="#000" />
<rect x="1313" y="328" width="5" height="9" fill="#000" />
<rect x="1323" y="317" width="1" height="26" fill="#000" />
<rect x="1321" y="323" width="5" height="18" fill="#000" />
<rect x="1331" y="292" width="1" height="41" fill="#000" />
<rect x="1329" y="294" width="5" height="37" fill="#000" />
<rect x="1330" y="295" width="3" height="35" fill="#fff" />
<rect x="1339" y="289" width="1" height="6" fill="#000" />
<rect x="1337" y="289" width="5" height="6" fill="#000" />
<rect x="1347" y="281" width="1" height="28" fill="#000" />
<rect x="1345" y="283" width="5" height="17" fill="#000" />
<rect x="1355" y="310" width="1" height="30" fill="#000" />
<rect x="1353" y="310" width="5" height="28" fill="#000" />
<rect x="1363" y="311" width="1" height="24" fill="#000" />
<rect x="1361" y="317" width="5" height="8" fill="#000" />
<rect x="1362" y="318" width="3" height="6" fill="#fff" />
<rect x="1371" y="292" width="1" height="21" fill="#000" />
<rect x="1369" y="303" width="5" height="5" fill="#000" />
<rect x="1370" y="304" width="3" height="3" fill="#fff" />
<rect x="1379" y="301" width="1" height="11" fill="#000" />
<rect x="1377" y="306" width="5" height="2" fill="#000" />
<rect x="1387" y="278" width="1" height="23" fill="#000" />
<rect x="1385" y="297" width="5" height="4" fill="#000" />
<rect x="1386" y="298" width="3" height="2" fill="#fff" />
<rect x="1395" y="280" width="1" height="26" fill="#000" />
<rect x="1393" y="280" width="5" height="19" fill="#000" />
<rect x="1394" y="281" width="3" height="17" fill="#fff" />
<rect x="1403" y="273" width="1" height="24" fill="#000" />
<rect x="1401" y="276" width="5" height="12" fill="#000" />
<rect x="1402" y="277" width="3" height="10" fill="#fff" />
<rect x="1411" y="282" width="1" height="21" fill="#000" />
<rect x="1419" y="285" width="1" height="18" fill="#000" />
<rect x="1417" y="293" width="5" height="10" fill="#000" />
<rect x="1427" y="298" width="1" height="30" fill="#000" />
<rect x="1425" y="307" width="5" height="21" fill="#000" />
<rect x="1426" y="308" width="3" height="19" fill="#fff" />
<rect x="1435" y="304" width="1" height="43" fill="#000" />
<rect x="1433" y="319" width="5" height="16" fill="#000" />
<rect x="1443" y="311" width="1" height="22" fill="#000" />
<rect x="1441" y="318" width="5" height="15" fill="#000" />
<rect x="1442" y="319" width="3" height="13" fill="#fff" />
<rect x="1451" y="268" width="1" height="31" fill="#000" />
<rect x="1449" y="268" width="5" height="31" fill="#000" />
<rect x="1450" y="269" width="3" height="29" fill="#fff" />
</g>
<rect x="1263" y="288" width="225" height="5" fill="#00ff00" shape-rendering="crispEdges"/>
<polygon points="1459.5,25 1469.5,25 1464.5,30" fill="#b4b4b4"/>
<g shape-rendering="crispEdges">
<rect x="1680" y="227" width="5" height="5" fill="#ff0000" />
<rect x="1681" y="228" width="3" height="3" fill="#fff" />
<rect x="1680" y="288" width="5" height="5" fill="#32cd32" />
<rect x="1681" y="289" width="3" height="3" fill="#fff" />
<rect x="1680" y="309" width="5" height="5" fill="#0000ff" />
<rect x="1681" y="310" width="3" height="3" fill="#fff" />
<rect x="1680" y="330" width="5" height="5" fill="#0000ff" />
<rect x="1681" y="331" width="3" height="3" fill="#fff" />
</g>
<rect x="1508.5" y="292.5" width="110" height="24" fill="none" stroke="#404040" shape-rendering="crispEdges"/>
<text x="1508.8" y="311.7" font-size="20" fill="#00ff00" font-family="'Liberation Serif', 'Noto Serif CJK SC', serif" font-weight="500" textLength="106.5" lengthAdjust="spacing">多空转折点</text>
<rect x="1562" y="291" width="2" height="1" fill="#32cd32" shape-rendering="crispEdges"/>
<rect x="1561" y="292" width="1" height="1" fill="#32cd32" shape-rendering="crispEdges"/>
<rect x="1564" y="292" width="1" height="1" fill="#32cd32" shape-rendering="crispEdges"/>
<rect x="1562" y="292" width="2" height="1" fill="#ff80ff" shape-rendering="crispEdges"/>
<line x1="1251.0" y1="404.8" x2="1346.7" y2="284.4" stroke="#ff0000" stroke-width="3.4" stroke-linecap="butt" shape-rendering="crispEdges"/>
<polygon points="1349.8,280.5 1347.0,290.7 1344.8,286.8 1340.5,285.6" fill="#ff0000" stroke="#ff0000" stroke-width="1.2" stroke-linejoin="round" shape-rendering="crispEdges"/>
<line x1="1349.8" y1="280.5" x2="1362.1" y2="332.7" stroke="#ff0000" stroke-width="3.4" stroke-linecap="butt" shape-rendering="crispEdges"/>
<polygon points="1363.3,337.6 1357.0,329.1 1361.5,329.8 1365.1,327.2" fill="#ff0000" stroke="#ff0000" stroke-width="1.2" stroke-linejoin="round" shape-rendering="crispEdges"/>
<line x1="1363.3" y1="337.6" x2="1400.4" y2="284.6" stroke="#ff0000" stroke-width="3.4" stroke-linecap="butt" shape-rendering="crispEdges"/>
<polygon points="1403.3,280.5 1401.1,290.9 1398.7,287.1 1394.3,286.1" fill="#ff0000" stroke="#ff0000" stroke-width="1.2" stroke-linejoin="round" shape-rendering="crispEdges"/>
<line x1="1403.3" y1="280.5" x2="1434.0" y2="330.4" stroke="#ff0000" stroke-width="3.4" stroke-linecap="butt" shape-rendering="crispEdges"/>
<polygon points="1436.6,334.7 1428.0,328.6 1432.4,327.9 1435.0,324.2" fill="#ff0000" stroke="#ff0000" stroke-width="1.2" stroke-linejoin="round" shape-rendering="crispEdges"/>
<line x1="1436.6" y1="334.7" x2="1469.2" y2="263.2" stroke="#ff0000" stroke-width="3.4" stroke-linecap="butt" shape-rendering="crispEdges"/>
<polygon points="1471.3,258.7 1471.0,269.3 1468.0,266.0 1463.5,265.9" fill="#ff0000" stroke="#ff0000" stroke-width="1.2" stroke-linejoin="round" shape-rendering="crispEdges"/>
</g>
<g clip-path="url(#macdclip)">
<g shape-rendering="crispEdges">
<rect x="3" y="630" width="1" height="20" fill="#c0c0c0" />
<rect x="11" y="630" width="1" height="15" fill="#c0c0c0" />
<rect x="19" y="630" width="1" height="12" fill="#c0c0c0" />
<rect x="27" y="630" width="1" height="10" fill="#c0c0c0" />
<rect x="35" y="630" width="1" height="6" fill="#c0c0c0" />
<rect x="43" y="630" width="1" height="7" fill="#c0c0c0" />
<rect x="51" y="630" width="1" height="6" fill="#c0c0c0" />
<rect x="59" y="630" width="1" height="6" fill="#c0c0c0" />
<rect x="67" y="630" width="1" height="8" fill="#c0c0c0" />
<rect x="75" y="630" width="1" height="11" fill="#c0c0c0" />
<rect x="83" y="630" width="1" height="14" fill="#c0c0c0" />
<rect x="91" y="630" width="1" height="19" fill="#c0c0c0" />
<rect x="99" y="630" width="1" height="20" fill="#c0c0c0" />
<rect x="107" y="630" width="1" height="25" fill="#c0c0c0" />
<rect x="115" y="630" width="1" height="27" fill="#c0c0c0" />
<rect x="123" y="630" width="1" height="29" fill="#c0c0c0" />
<rect x="131" y="630" width="1" height="31" fill="#c0c0c0" />
<rect x="139" y="630" width="1" height="30" fill="#c0c0c0" />
<rect x="147" y="630" width="1" height="31" fill="#c0c0c0" />
<rect x="155" y="630" width="1" height="40" fill="#c0c0c0" />
<rect x="163" y="630" width="1" height="43" fill="#c0c0c0" />
<rect x="171" y="630" width="1" height="47" fill="#c0c0c0" />
<rect x="179" y="630" width="1" height="55" fill="#c0c0c0" />
<rect x="187" y="630" width="1" height="64" fill="#c0c0c0" />
<rect x="195" y="630" width="1" height="78" fill="#c0c0c0" />
<rect x="203" y="630" width="1" height="85" fill="#c0c0c0" />
<rect x="211" y="630" width="1" height="97" fill="#c0c0c0" />
<rect x="219" y="630" width="1" height="106" fill="#c0c0c0" />
<rect x="227" y="630" width="1" height="104" fill="#c0c0c0" />
<rect x="235" y="630" width="1" height="112" fill="#c0c0c0" />
<rect x="243" y="630" width="1" height="108" fill="#c0c0c0" />
<rect x="251" y="630" width="1" height="99" fill="#c0c0c0" />
<rect x="259" y="630" width="1" height="93" fill="#c0c0c0" />
<rect x="267" y="630" width="1" height="85" fill="#c0c0c0" />
<rect x="275" y="630" width="1" height="80" fill="#c0c0c0" />
<rect x="283" y="630" width="1" height="71" fill="#c0c0c0" />
<rect x="291" y="630" width="1" height="69" fill="#c0c0c0" />
<rect x="299" y="630" width="1" height="64" fill="#c0c0c0" />
<rect x="307" y="630" width="1" height="61" fill="#c0c0c0" />
<rect x="315" y="630" width="1" height="54" fill="#c0c0c0" />
<rect x="323" y="630" width="1" height="43" fill="#c0c0c0" />
<rect x="331" y="630" width="1" height="37" fill="#c0c0c0" />
<rect x="339" y="630" width="1" height="31" fill="#c0c0c0" />
<rect x="347" y="630" width="1" height="23" fill="#c0c0c0" />
<rect x="355" y="630" width="1" height="19" fill="#c0c0c0" />
<rect x="363" y="630" width="1" height="17" fill="#c0c0c0" />
<rect x="371" y="630" width="1" height="12" fill="#c0c0c0" />
<rect x="379" y="630" width="1" height="10" fill="#c0c0c0" />
<rect x="387" y="630" width="1" height="10" fill="#c0c0c0" />
<rect x="395" y="630" width="1" height="10" fill="#c0c0c0" />
<rect x="403" y="630" width="1" height="7" fill="#c0c0c0" />
<rect x="411" y="630" width="1" height="7" fill="#c0c0c0" />
<rect x="419" y="630" width="1" height="3" fill="#c0c0c0" />
<rect x="427" y="630" width="1" height="2" fill="#c0c0c0" />
<rect x="435" y="630" width="1" height="1" fill="#c0c0c0" />
<rect x="443" y="630" width="1" height="5" fill="#c0c0c0" />
<rect x="451" y="630" width="1" height="5" fill="#c0c0c0" />
<rect x="459" y="630" width="1" height="5" fill="#c0c0c0" />
<rect x="467" y="630" width="1" height="5" fill="#c0c0c0" />
<rect x="475" y="630" width="1" height="4" fill="#c0c0c0" />
<rect x="483" y="630" width="1" height="1" fill="#c0c0c0" />
<rect x="491" y="630" width="1" height="1" fill="#c0c0c0" />
<rect x="499" y="630" width="1" height="1" fill="#c0c0c0" />
<rect x="507" y="630" width="1" height="1" fill="#c0c0c0" />
<rect x="515" y="630" width="1" height="3" fill="#c0c0c0" />
<rect x="523" y="630" width="1" height="3" fill="#c0c0c0" />
<rect x="531" y="630" width="1" height="1" fill="#c0c0c0" />
<rect x="539" y="629" width="1" height="2" fill="#c0c0c0" />
<rect x="547" y="629" width="1" height="2" fill="#c0c0c0" />
<rect x="555" y="630" width="1" height="9" fill="#c0c0c0" />
<rect x="563" y="630" width="1" height="15" fill="#c0c0c0" />
<rect x="571" y="630" width="1" height="15" fill="#c0c0c0" />
<rect x="579" y="630" width="1" height="19" fill="#c0c0c0" />
<rect x="587" y="630" width="1" height="23" fill="#c0c0c0" />
<rect x="595" y="630" width="1" height="26" fill="#c0c0c0" />
<rect x="603" y="630" width="1" height="23" fill="#c0c0c0" />
<rect x="611" y="630" width="1" height="17" fill="#c0c0c0" />
<rect x="619" y="630" width="1" height="10" fill="#c0c0c0" />
<rect x="627" y="630" width="1" height="5" fill="#c0c0c0" />
<rect x="635" y="629" width="1" height="2" fill="#c0c0c0" />
<rect x="643" y="623" width="1" height="8" fill="#c0c0c0" />
<rect x="651" y="618" width="1" height="13" fill="#c0c0c0" />
<rect x="659" y="613" width="1" height="18" fill="#c0c0c0" />
<rect x="667" y="613" width="1" height="18" fill="#c0c0c0" />
<rect x="675" y="615" width="1" height="16" fill="#c0c0c0" />
<rect x="683" y="620" width="1" height="11" fill="#c0c0c0" />
<rect x="691" y="621" width="1" height="10" fill="#c0c0c0" />
<rect x="699" y="619" width="1" height="12" fill="#c0c0c0" />
<rect x="707" y="619" width="1" height="12" fill="#c0c0c0" />
<rect x="715" y="618" width="1" height="13" fill="#c0c0c0" />
<rect x="723" y="618" width="1" height="13" fill="#c0c0c0" />
<rect x="731" y="615" width="1" height="16" fill="#c0c0c0" />
<rect x="739" y="615" width="1" height="16" fill="#c0c0c0" />
<rect x="747" y="617" width="1" height="14" fill="#c0c0c0" />
<rect x="755" y="621" width="1" height="10" fill="#c0c0c0" />
<rect x="763" y="622" width="1" height="9" fill="#c0c0c0" />
<rect x="771" y="618" width="1" height="13" fill="#c0c0c0" />
<rect x="779" y="613" width="1" height="18" fill="#c0c0c0" />
<rect x="787" y="603" width="1" height="28" fill="#c0c0c0" />
<rect x="795" y="598" width="1" height="33" fill="#c0c0c0" />
<rect x="803" y="593" width="1" height="38" fill="#c0c0c0" />
<rect x="811" y="589" width="1" height="42" fill="#c0c0c0" />
<rect x="819" y="590" width="1" height="41" fill="#c0c0c0" />
<rect x="827" y="591" width="1" height="40" fill="#c0c0c0" />
<rect x="835" y="593" width="1" height="38" fill="#c0c0c0" />
<rect x="843" y="596" width="1" height="35" fill="#c0c0c0" />
<rect x="851" y="602" width="1" height="29" fill="#c0c0c0" />
<rect x="859" y="606" width="1" height="25" fill="#c0c0c0" />
<rect x="867" y="610" width="1" height="21" fill="#c0c0c0" />
<rect x="875" y="610" width="1" height="21" fill="#c0c0c0" />
<rect x="883" y="613" width="1" height="18" fill="#c0c0c0" />
<rect x="891" y="615" width="1" height="16" fill="#c0c0c0" />
<rect x="899" y="620" width="1" height="11" fill="#c0c0c0" />
<rect x="907" y="625" width="1" height="6" fill="#c0c0c0" />
<rect x="915" y="628" width="1" height="3" fill="#c0c0c0" />
<rect x="923" y="630" width="1" height="1" fill="#c0c0c0" />
<rect x="931" y="630" width="1" height="1" fill="#c0c0c0" />
<rect x="939" y="630" width="1" height="5" fill="#c0c0c0" />
<rect x="947" y="630" width="1" height="8" fill="#c0c0c0" />
<rect x="955" y="630" width="1" height="7" fill="#c0c0c0" />
<rect x="963" y="630" width="1" height="5" fill="#c0c0c0" />
<rect x="971" y="630" width="1" height="5" fill="#c0c0c0" />
<rect x="979" y="630" width="1" height="8" fill="#c0c0c0" />
<rect x="987" y="630" width="1" height="10" fill="#c0c0c0" />
<rect x="995" y="630" width="1" height="8" fill="#c0c0c0" />
<rect x="1003" y="630" width="1" height="6" fill="#c0c0c0" />
<rect x="1011" y="630" width="1" height="1" fill="#c0c0c0" />
<rect x="1019" y="630" width="1" height="1" fill="#c0c0c0" />
<rect x="1027" y="628" width="1" height="3" fill="#c0c0c0" />
<rect x="1035" y="626" width="1" height="5" fill="#c0c0c0" />
<rect x="1043" y="626" width="1" height="5" fill="#c0c0c0" />
<rect x="1051" y="629" width="1" height="2" fill="#c0c0c0" />
<rect x="1059" y="628" width="1" height="3" fill="#c0c0c0" />
<rect x="1067" y="625" width="1" height="6" fill="#c0c0c0" />
<rect x="1075" y="623" width="1" height="8" fill="#c0c0c0" />
<rect x="1083" y="622" width="1" height="9" fill="#c0c0c0" />
<rect x="1091" y="623" width="1" height="8" fill="#c0c0c0" />
<rect x="1099" y="622" width="1" height="9" fill="#c0c0c0" />
<rect x="1107" y="623" width="1" height="8" fill="#c0c0c0" />
<rect x="1115" y="625" width="1" height="6" fill="#c0c0c0" />
<rect x="1123" y="625" width="1" height="6" fill="#c0c0c0" />
<rect x="1131" y="628" width="1" height="3" fill="#c0c0c0" />
<rect x="1139" y="630" width="1" height="1" fill="#c0c0c0" />
<rect x="1147" y="630" width="1" height="5" fill="#c0c0c0" />
<rect x="1155" y="630" width="1" height="8" fill="#c0c0c0" />
<rect x="1163" y="630" width="1" height="10" fill="#c0c0c0" />
<rect x="1171" y="630" width="1" height="13" fill="#c0c0c0" />
<rect x="1179" y="630" width="1" height="13" fill="#c0c0c0" />
<rect x="1187" y="630" width="1" height="13" fill="#c0c0c0" />
<rect x="1195" y="630" width="1" height="13" fill="#c0c0c0" />
<rect x="1203" y="630" width="1" height="12" fill="#c0c0c0" />
<rect x="1211" y="630" width="1" height="13" fill="#c0c0c0" />
<rect x="1219" y="630" width="1" height="13" fill="#c0c0c0" />
<rect x="1227" y="630" width="1" height="16" fill="#c0c0c0" />
<rect x="1235" y="630" width="1" height="21" fill="#c0c0c0" />
<rect x="1243" y="630" width="1" height="24" fill="#c0c0c0" />
<rect x="1251" y="630" width="1" height="29" fill="#c0c0c0" />
<rect x="1259" y="630" width="1" height="34" fill="#c0c0c0" />
<rect x="1267" y="630" width="1" height="35" fill="#c0c0c0" />
<rect x="1275" y="630" width="1" height="37" fill="#c0c0c0" />
<rect x="1283" y="630" width="1" height="37" fill="#c0c0c0" />
<rect x="1291" y="630" width="1" height="34" fill="#c0c0c0" />
<rect x="1299" y="630" width="1" height="30" fill="#c0c0c0" />
<rect x="1307" y="630" width="1" height="25" fill="#c0c0c0" />
<rect x="1315" y="630" width="1" height="21" fill="#c0c0c0" />
<rect x="1323" y="630" width="1" height="18" fill="#c0c0c0" />
<rect x="1331" y="630" width="1" height="12" fill="#c0c0c0" />
<rect x="1339" y="630" width="1" height="6" fill="#c0c0c0" />
<rect x="1347" y="630" width="1" height="3" fill="#c0c0c0" />
<rect x="1355" y="630" width="1" height="3" fill="#c0c0c0" />
<rect x="1363" y="630" width="1" height="2" fill="#c0c0c0" />
<rect x="1371" y="630" width="1" height="1" fill="#c0c0c0" />
<rect x="1379" y="629" width="1" height="2" fill="#c0c0c0" />
<rect x="1387" y="627" width="1" height="4" fill="#c0c0c0" />
<rect x="1395" y="623" width="1" height="8" fill="#c0c0c0" />
<rect x="1403" y="621" width="1" height="10" fill="#c0c0c0" />
<rect x="1411" y="620" width="1" height="11" fill="#c0c0c0" />
<rect x="1419" y="621" width="1" height="10" fill="#c0c0c0" />
<rect x="1427" y="622" width="1" height="9" fill="#c0c0c0" />
<rect x="1435" y="623" width="1" height="8" fill="#c0c0c0" />
<rect x="1443" y="624" width="1" height="7" fill="#c0c0c0" />
<rect x="1451" y="623" width="1" height="8" fill="#c0c0c0" />
</g>
<polyline points="0,652.7 11.4,654.5 33,650.2 58.4,641.3 76.2,638.8 91.5,639.5 106.7,641.8 127,648.9 142.3,652.7 162.6,659.6 182.9,668 203.3,682 218.5,697.2 236.3,712.4 251.5,723.9 265.5,728.2 282,725.1 302.3,715 325.2,697.2 350.6,678.1 376,657.8 396.3,647.7 416.7,641.8 430,639.1 440.2,636.6 468.1,635.5 491,632.2 531.6,632.2 541.8,631 557,632.2 572.3,636.1 595.1,641.6 618,647 633.3,645.5 648.5,641.1 668.8,628.9 684.1,622.1 704.4,617.5 729.8,616.5 770.4,617.5 788.2,615.2 811.1,607.6 831.4,600 851.7,594.6 861.9,594.6 867,596.2 875.2,597.9 890.5,603 910.8,611.9 933.7,620 954,628.4 979.4,633.5 1002.3,636.1 1022.6,635.3 1042.9,632.2 1063.3,628.9 1083.6,625.4 1103.9,624.1 1119.2,623.4 1134.4,623.4 1152.2,625.9 1172.5,631.5 1195.4,638.6 1220.8,641.6 1246.2,645.5 1266.5,651.3 1281.8,656.4 1291.9,659.7 1297,660 1310,659.5 1328,657.5 1337,654.5 1350,648 1372,639.5 1390,633 1405,628.7 1420,626 1433,624.1 1451,622.3" fill="none" stroke="#ff0000" stroke-width="1" stroke-dasharray="3 3" shape-rendering="crispEdges"/>
<line x1="1295.6" y1="664.9" x2="1444.7" y2="622.4" stroke="#ff0000" stroke-width="3.4" stroke-linecap="butt" shape-rendering="crispEdges"/>
<polygon points="1449.5,621.0 1441.3,627.7 1441.8,623.2 1439.0,619.7" fill="#ff0000" stroke="#ff0000" stroke-width="1.2" stroke-linejoin="round" shape-rendering="crispEdges"/>
</g>
<g clip-path="url(#rsiclip)">
<line x1="2" y1="787.5" x2="1685" y2="787.5" stroke="#c0c0c0" stroke-dasharray="3 3" shape-rendering="crispEdges"/>
<line x1="2" y1="838.5" x2="1685" y2="838.5" stroke="#c0c0c0" stroke-dasharray="3 3" shape-rendering="crispEdges"/>
<line x1="2" y1="899.5" x2="1685" y2="899.5" stroke="#c0c0c0" stroke-dasharray="3 3" shape-rendering="crispEdges"/>
<polyline points="0.0,841.5 3.8,837.0 11.4,833.2 19.3,836.0 27.4,833.9 35.3,832.1 43.2,842.3 51.3,838.5 59.2,842.8 67.3,847.1 75.5,858.6 83.3,855.3 91.5,859.3 99.3,855.3 107.5,865.4 115.3,861.4 123.5,860.3 131.4,863.4 139.5,846.6 147.4,860.9 155.5,875.6 163.4,861.1 171.5,864.9 179.4,876.1 187.5,877.6 195.4,886.5 203.3,880.4 211.4,886.3 219.3,887.8 227.4,864.4 235.3,876.6 243.4,859.3 251.3,849.2 259.4,852.7 267.3,849.2 275.4,853.7 283.3,845.4 291.4,852.5 299.3,848.4 307.4,849.7 315.3,842.8 323.4,834.2 331.6,842.6 339.4,837.7 347.3,834.2 355.4,839.0 363.3,840.8 371.4,835.2 379.3,836.5 387.4,843.6 395.3,841.5 403.5,840.3 411.6,844.6 419.5,836.5 427.6,830.4 435.5,831.9 435.1,832.1 443.2,849.2 451.1,843.6 459.2,838.5 467.1,841.5 475.2,837.0 483.1,831.4 491.2,837.0 499.1,838.5 507.2,845.4 515.1,845.4 523.2,840.3 531.1,833.2 539.2,831.4 547.1,837.0 555.3,859.6 563.1,856.3 571.3,847.4 579.1,852.2 587.3,853.5 595.1,855.5 603.3,842.3 611.1,833.9 619.3,829.3 627.2,828.1 635.3,822.2 643.2,822.2 651.3,820.2 659.2,817.4 667.3,832.1 675.2,835.4 683.3,845.4 691.2,833.4 699.3,832.1 707.2,833.2 715.3,828.3 723.2,832.1 731.3,823.3 739.2,832.9 747.3,837.2 755.2,842.3 763.3,838.2 771.2,822.2 779.3,820.2 787.2,807.2 795.3,815.4 803.2,814.1 811.4,812.3 819.2,824.5 827.4,823.3 835.2,828.1 843.4,829.3 851.2,841.5 859.4,836.5 867.2,839.5 867.1,839.5 875.2,828.3 883.1,838.5 891.2,835.2 899.1,846.1 907.3,847.4 915.1,844.1 923.3,842.3 931.1,846.1 939.3,848.4 947.1,851.2 955.3,838.5 963.2,835.2 971.3,841.0 979.2,850.4 987.3,849.2 995.2,837.0 1003.3,830.1 1011.2,833.2 1019.3,834.4 1027.2,829.3 1035.3,828.1 1043.2,834.4 1051.3,846.1 1059.2,836.0 1067.3,826.3 1075.2,828.1 1083.3,828.3 1091.2,837.0 1099.3,831.4 1107.2,839.0 1115.3,839.3 1123.2,839.3 1131.3,843.6 1139.2,849.7 1147.3,853.7 1155.2,855.0 1163.4,857.6 1171.2,862.4 1179.4,852.5 1187.2,849.2 1195.4,841.5 1203.2,842.3 1211.4,854.2 1219.2,849.2 1227.4,863.6 1235.3,869.0 1243.4,867.5 1251.3,875.1 1259.4,877.1 1267.3,866.4 1275.4,869.5 1283.3,862.4 1291.4,849.7 1298.9,843.2 1307.1,837.4 1315.0,838.9 1322.9,841.5 1330.8,823.6 1339.0,823.6 1346.9,826.7 1355.1,843.2 1363.0,834.8 1370.9,830.5 1379.1,831.3 1387.0,826.7 1394.9,822.1 1403.1,820.3 1411.0,827.9 1418.9,832.5 1427.0,836.1 1434.9,847.1 1443.1,841.5 1451.0,823.6" fill="none" stroke="#1e90ff" stroke-width="1" shape-rendering="crispEdges"/>
<line x1="1256.3" y1="878.4" x2="1338.3" y2="818.8" stroke="#ff0000" stroke-width="3.4" stroke-linecap="butt" shape-rendering="crispEdges"/>
<polygon points="1342.3,815.9 1336.8,825.0 1335.8,820.6 1332.0,818.3" fill="#ff0000" stroke="#ff0000" stroke-width="1.2" stroke-linejoin="round" shape-rendering="crispEdges"/>
<line x1="1342.3" y1="815.9" x2="1419.3" y2="841.7" stroke="#ff0000" stroke-width="3.4" stroke-linecap="butt" shape-rendering="crispEdges"/>
<polygon points="1424.0,843.3 1413.4,844.1 1416.4,840.8 1416.1,836.3" fill="#ff0000" stroke="#ff0000" stroke-width="1.2" stroke-linejoin="round" shape-rendering="crispEdges"/>
<line x1="1424.0" y1="843.3" x2="1467.3" y2="820.5" stroke="#ff0000" stroke-width="3.4" stroke-linecap="butt" shape-rendering="crispEdges"/>
<polygon points="1471.7,818.2 1465.0,826.4 1464.6,821.9 1461.1,819.1" fill="#ff0000" stroke="#ff0000" stroke-width="1.2" stroke-linejoin="round" shape-rendering="crispEdges"/>
</g>
<g shape-rendering="crispEdges">
<rect x="0" y="24" width="1686" height="1" fill="#000" />
<rect x="0" y="577" width="1686" height="1" fill="#000" />
<rect x="0" y="579" width="1686" height="1" fill="#000" />
<rect x="0" y="749" width="1686" height="1" fill="#000" />
<rect x="0" y="751" width="1686" height="1" fill="#000" />
<rect x="0" y="925" width="1686" height="1" fill="#000" />
<rect x="1685" y="24" width="1" height="554" fill="#000" />
<rect x="1685" y="579" width="1" height="171" fill="#000" />
<rect x="1685" y="751" width="1" height="175" fill="#000" />
<rect x="1731" y="22" width="1" height="923" fill="#e6e6e6" />
<rect x="1686" y="46" width="2" height="1" fill="#000" />
<rect x="1686" y="79" width="2" height="1" fill="#000" />
<rect x="1686" y="112" width="2" height="1" fill="#000" />
<rect x="1686" y="145" width="2" height="1" fill="#000" />
<rect x="1686" y="178" width="2" height="1" fill="#000" />
<rect x="1686" y="211" width="2" height="1" fill="#000" />
<rect x="1686" y="244" width="2" height="1" fill="#000" />
<rect x="1686" y="277" width="2" height="1" fill="#000" />
<rect x="1686" y="310" width="2" height="1" fill="#000" />
<rect x="1686" y="343" width="2" height="1" fill="#000" />
<rect x="1686" y="376" width="2" height="1" fill="#000" />
<rect x="1686" y="409" width="2" height="1" fill="#000" />
<rect x="1686" y="442" width="2" height="1" fill="#000" />
<rect x="1686" y="475" width="2" height="1" fill="#000" />
<rect x="1686" y="508" width="2" height="1" fill="#000" />
<rect x="1686" y="541" width="2" height="1" fill="#000" />
<rect x="1686" y="574" width="2" height="1" fill="#000" />
</g>
<text x="1691" y="49.8" font-size="9.8" fill="#000" text-anchor="start" textLength="33" lengthAdjust="spacingAndGlyphs"  stroke="#000" stroke-width="0.18">28074.0</text>
<text x="1691" y="82.8" font-size="9.8" fill="#000" text-anchor="start" textLength="33" lengthAdjust="spacingAndGlyphs"  stroke="#000" stroke-width="0.18">27615.0</text>
<text x="1691" y="115.8" font-size="9.8" fill="#000" text-anchor="start" textLength="33" lengthAdjust="spacingAndGlyphs"  stroke="#000" stroke-width="0.18">27169.5</text>
<text x="1691" y="148.8" font-size="9.8" fill="#000" text-anchor="start" textLength="33" lengthAdjust="spacingAndGlyphs"  stroke="#000" stroke-width="0.18">26710.5</text>
<text x="1691" y="181.8" font-size="9.8" fill="#000" text-anchor="start" textLength="33" lengthAdjust="spacingAndGlyphs"  stroke="#000" stroke-width="0.18">26265.0</text>
<text x="1691" y="214.8" font-size="9.8" fill="#000" text-anchor="start" textLength="33" lengthAdjust="spacingAndGlyphs"  stroke="#000" stroke-width="0.18">25806.0</text>
<text x="1691" y="247.8" font-size="9.8" fill="#000" text-anchor="start" textLength="33" lengthAdjust="spacingAndGlyphs"  stroke="#000" stroke-width="0.18">25360.5</text>
<text x="1691" y="280.8" font-size="9.8" fill="#000" text-anchor="start" textLength="33" lengthAdjust="spacingAndGlyphs"  stroke="#000" stroke-width="0.18">24901.5</text>
<text x="1691" y="313.8" font-size="9.8" fill="#000" text-anchor="start" textLength="33" lengthAdjust="spacingAndGlyphs"  stroke="#000" stroke-width="0.18">24456.0</text>
<text x="1691" y="346.8" font-size="9.8" fill="#000" text-anchor="start" textLength="33" lengthAdjust="spacingAndGlyphs"  stroke="#000" stroke-width="0.18">23997.0</text>
<text x="1691" y="379.8" font-size="9.8" fill="#000" text-anchor="start" textLength="33" lengthAdjust="spacingAndGlyphs"  stroke="#000" stroke-width="0.18">23538.0</text>
<text x="1691" y="412.8" font-size="9.8" fill="#000" text-anchor="start" textLength="33" lengthAdjust="spacingAndGlyphs"  stroke="#000" stroke-width="0.18">23092.5</text>
<text x="1691" y="445.8" font-size="9.8" fill="#000" text-anchor="start" textLength="33" lengthAdjust="spacingAndGlyphs"  stroke="#000" stroke-width="0.18">22633.5</text>
<text x="1691" y="478.8" font-size="9.8" fill="#000" text-anchor="start" textLength="33" lengthAdjust="spacingAndGlyphs"  stroke="#000" stroke-width="0.18">22174.5</text>
<text x="1691" y="511.8" font-size="9.8" fill="#000" text-anchor="start" textLength="33" lengthAdjust="spacingAndGlyphs"  stroke="#000" stroke-width="0.18">21729.0</text>
<text x="1691" y="544.8" font-size="9.8" fill="#000" text-anchor="start" textLength="33" lengthAdjust="spacingAndGlyphs"  stroke="#000" stroke-width="0.18">21270.0</text>
<text x="1691" y="577.8" font-size="9.8" fill="#000" text-anchor="start" textLength="33" lengthAdjust="spacingAndGlyphs"  stroke="#000" stroke-width="0.18">20824.5</text>
<g shape-rendering="crispEdges">
<rect x="1686" y="581" width="1" height="1" fill="#000" />
<rect x="1686" y="630" width="1" height="1" fill="#000" />
<rect x="1686" y="747" width="1" height="1" fill="#000" />
<rect x="1686" y="753" width="1" height="1" fill="#000" />
<rect x="1686" y="924" width="1" height="1" fill="#000" />
</g>
<text x="1689" y="590" font-size="9.8" fill="#000" text-anchor="start" textLength="28" lengthAdjust="spacingAndGlyphs"  stroke="#000" stroke-width="0.18">596.11</text>
<text x="1689" y="634" font-size="9.8" fill="#000" text-anchor="start" textLength="18.5" lengthAdjust="spacingAndGlyphs"  stroke="#000" stroke-width="0.18">0.00</text>
<text x="1689" y="746.2" font-size="9.8" fill="#000" text-anchor="start" textLength="36" lengthAdjust="spacingAndGlyphs"  stroke="#000" stroke-width="0.18">-1415.19</text>
<text x="1689.2" y="761.8" font-size="9.8" fill="#000" text-anchor="start" textLength="14.5" lengthAdjust="spacingAndGlyphs"  stroke="#000" stroke-width="0.18">100</text>
<text x="1688.6" y="790.7" font-size="9.8" fill="#000" text-anchor="start" textLength="9.5" lengthAdjust="spacingAndGlyphs"  stroke="#000" stroke-width="0.18">80</text>
<text x="1688.6" y="842.1" font-size="9.8" fill="#000" text-anchor="start" textLength="9.5" lengthAdjust="spacingAndGlyphs"  stroke="#000" stroke-width="0.18">50</text>
<text x="1688.3" y="903.1" font-size="9.8" fill="#000" text-anchor="start" textLength="9.5" lengthAdjust="spacingAndGlyphs"  stroke="#000" stroke-width="0.18">15</text>
<text x="1689.1" y="921.9" font-size="9.8" fill="#000" text-anchor="start" textLength="4.8" lengthAdjust="spacingAndGlyphs"  stroke="#000" stroke-width="0.18">0</text>
<rect x="1687" y="223" width="41" height="11" fill="#ff0000" shape-rendering="crispEdges"/>
<text x="1691" y="232.2" font-size="9.8" fill="#fff" text-anchor="start" textLength="33" lengthAdjust="spacingAndGlyphs"  stroke="#fff" stroke-width="0.18">25558.3</text>
<rect x="1687" y="244" width="41" height="11" fill="#ff0000" shape-rendering="crispEdges"/>
<text x="1691" y="253.2" font-size="9.8" fill="#fff" text-anchor="start" textLength="33" lengthAdjust="spacingAndGlyphs"  stroke="#fff" stroke-width="0.18">25270.2</text>
<rect x="1687" y="262" width="41" height="11" fill="#000" shape-rendering="crispEdges"/>
<text x="1691" y="271.2" font-size="9.8" fill="#fff" text-anchor="start" textLength="33" lengthAdjust="spacingAndGlyphs"  stroke="#fff" stroke-width="0.18">25021.0</text>
<rect x="1687" y="284" width="41" height="11" fill="#32cd32" shape-rendering="crispEdges"/>
<text x="1691" y="293.2" font-size="9.8" fill="#fff" text-anchor="start" textLength="33" lengthAdjust="spacingAndGlyphs"  stroke="#fff" stroke-width="0.18">24721.4</text>
<rect x="1687" y="305" width="41" height="11" fill="#0000ff" shape-rendering="crispEdges"/>
<text x="1691" y="314.2" font-size="9.8" fill="#fff" text-anchor="start" textLength="33" lengthAdjust="spacingAndGlyphs"  stroke="#fff" stroke-width="0.18">24433.3</text>
<rect x="1687" y="326" width="41" height="11" fill="#0000ff" shape-rendering="crispEdges"/>
<text x="1691" y="335.2" font-size="9.8" fill="#fff" text-anchor="start" textLength="33" lengthAdjust="spacingAndGlyphs"  stroke="#fff" stroke-width="0.18">24145.2</text>
<g shape-rendering="crispEdges">
<rect x="-5" y="926" width="1" height="3" fill="#000" />
<rect x="59" y="926" width="1" height="3" fill="#000" />
<rect x="123" y="926" width="1" height="3" fill="#000" />
<rect x="187" y="926" width="1" height="3" fill="#000" />
<rect x="251" y="926" width="1" height="3" fill="#000" />
<rect x="315" y="926" width="1" height="3" fill="#000" />
<rect x="379" y="926" width="1" height="3" fill="#000" />
<rect x="443" y="926" width="1" height="3" fill="#000" />
<rect x="507" y="926" width="1" height="3" fill="#000" />
<rect x="571" y="926" width="1" height="3" fill="#000" />
<rect x="635" y="926" width="1" height="3" fill="#000" />
<rect x="699" y="926" width="1" height="3" fill="#000" />
<rect x="763" y="926" width="1" height="3" fill="#000" />
<rect x="827" y="926" width="1" height="3" fill="#000" />
<rect x="891" y="926" width="1" height="3" fill="#000" />
<rect x="955" y="926" width="1" height="3" fill="#000" />
<rect x="1019" y="926" width="1" height="3" fill="#000" />
<rect x="1083" y="926" width="1" height="3" fill="#000" />
<rect x="1147" y="926" width="1" height="3" fill="#000" />
<rect x="1211" y="926" width="1" height="3" fill="#000" />
<rect x="1275" y="926" width="1" height="3" fill="#000" />
<rect x="1339" y="926" width="1" height="3" fill="#000" />
<rect x="1403" y="926" width="1" height="3" fill="#000" />
</g>
<text x="-6" y="938.3" font-size="9.8" fill="#000" text-anchor="start" textLength="51.6" lengthAdjust="spacingAndGlyphs"  stroke="#000" stroke-width="0.18">10 Feb 2020</text>
<text x="58" y="938.3" font-size="9.8" fill="#000" text-anchor="start" textLength="51.6" lengthAdjust="spacingAndGlyphs"  stroke="#000" stroke-width="0.18">20 Feb 2020</text>
<text x="122" y="938.3" font-size="9.8" fill="#000" text-anchor="start" textLength="46.2" lengthAdjust="spacingAndGlyphs"  stroke="#000" stroke-width="0.18">3 Mar 2020</text>
<text x="186" y="938.3" font-size="9.8" fill="#000" text-anchor="start" textLength="51.6" lengthAdjust="spacingAndGlyphs"  stroke="#000" stroke-width="0.18">13 Mar 2020</text>
<text x="250" y="938.3" font-size="9.8" fill="#000" text-anchor="start" textLength="51.6" lengthAdjust="spacingAndGlyphs"  stroke="#000" stroke-width="0.18">25 Mar 2020</text>
<text x="314" y="938.3" font-size="9.8" fill="#000" text-anchor="start" textLength="45.2" lengthAdjust="spacingAndGlyphs"  stroke="#000" stroke-width="0.18">6 Apr 2020</text>
<text x="378" y="938.3" font-size="9.8" fill="#000" text-anchor="start" textLength="50.6" lengthAdjust="spacingAndGlyphs"  stroke="#000" stroke-width="0.18">20 Apr 2020</text>
<text x="442" y="938.3" font-size="9.8" fill="#000" text-anchor="start" textLength="49.8" lengthAdjust="spacingAndGlyphs"  stroke="#000" stroke-width="0.18">4 May 2020</text>
<text x="506" y="938.3" font-size="9.8" fill="#000" text-anchor="start" textLength="54.9" lengthAdjust="spacingAndGlyphs"  stroke="#000" stroke-width="0.18">14 May 2020</text>
<text x="570" y="938.3" font-size="9.8" fill="#000" text-anchor="start" textLength="54.9" lengthAdjust="spacingAndGlyphs"  stroke="#000" stroke-width="0.18">26 May 2020</text>
<text x="634" y="938.3" font-size="9.8" fill="#000" text-anchor="start" textLength="44.5" lengthAdjust="spacingAndGlyphs"  stroke="#000" stroke-width="0.18">5 Jun 2020</text>
<text x="698" y="938.3" font-size="9.8" fill="#000" text-anchor="start" textLength="49.5" lengthAdjust="spacingAndGlyphs"  stroke="#000" stroke-width="0.18">17 Jun 2020</text>
<text x="762" y="938.3" font-size="9.8" fill="#000" text-anchor="start" textLength="49.5" lengthAdjust="spacingAndGlyphs"  stroke="#000" stroke-width="0.18">30 Jun 2020</text>
<text x="826" y="938.3" font-size="9.8" fill="#000" text-anchor="start" textLength="46.5" lengthAdjust="spacingAndGlyphs"  stroke="#000" stroke-width="0.18">13 Jul 2020</text>
<text x="890" y="938.3" font-size="9.8" fill="#000" text-anchor="start" textLength="46.5" lengthAdjust="spacingAndGlyphs"  stroke="#000" stroke-width="0.18">23 Jul 2020</text>
<text x="954" y="938.3" font-size="9.8" fill="#000" text-anchor="start" textLength="47.5" lengthAdjust="spacingAndGlyphs"  stroke="#000" stroke-width="0.18">4 Aug 2020</text>
<text x="1018" y="938.3" font-size="9.8" fill="#000" text-anchor="start" textLength="52.3" lengthAdjust="spacingAndGlyphs"  stroke="#000" stroke-width="0.18">14 Aug 2020</text>
<text x="1082" y="938.3" font-size="9.8" fill="#000" text-anchor="start" textLength="52.3" lengthAdjust="spacingAndGlyphs"  stroke="#000" stroke-width="0.18">26 Aug 2020</text>
<text x="1146" y="938.3" font-size="9.8" fill="#000" text-anchor="start" textLength="46.5" lengthAdjust="spacingAndGlyphs"  stroke="#000" stroke-width="0.18">7 Sep 2020</text>
<text x="1210" y="938.3" font-size="9.8" fill="#000" text-anchor="start" textLength="51.6" lengthAdjust="spacingAndGlyphs"  stroke="#000" stroke-width="0.18">17 Sep 2020</text>
<text x="1274" y="938.3" font-size="9.8" fill="#000" text-anchor="start" textLength="51.6" lengthAdjust="spacingAndGlyphs"  stroke="#000" stroke-width="0.18">29 Sep 2020</text>
<text x="1338" y="938.3" font-size="9.8" fill="#000" text-anchor="start" textLength="50.5" lengthAdjust="spacingAndGlyphs"  stroke="#000" stroke-width="0.18">13 Oct 2020</text>
<text x="1402" y="938.3" font-size="9.8" fill="#000" text-anchor="start" textLength="50.8" lengthAdjust="spacingAndGlyphs"  stroke="#000" stroke-width="0.18">23 Oct 2020</text>
<text x="9.7" y="35.6" font-size="9.8" fill="#000" text-anchor="start" textLength="198" lengthAdjust="spacingAndGlyphs"  stroke="#000" stroke-width="0.18">HK50-,Daily&#160;&#160;24606.0 25024.0 24605.0 25021.0</text>
<polygon points="0,34.8 5,34.8 2.5,31.2" fill="#000"/>
<text x="0" y="592" font-size="9.8" fill="#000" text-anchor="start" textLength="122" lengthAdjust="spacingAndGlyphs"  stroke="#000" stroke-width="0.18">MACD(12,26,9) 100.27 98.32</text>
<text x="-0.5" y="764" font-size="9.8" fill="#000" text-anchor="start" textLength="67.5" lengthAdjust="spacingAndGlyphs"  stroke="#000" stroke-width="0.18">RSI(14) 59.8397</text>

<g id="oneclick">
<rect x="0" y="44" width="217" height="64" fill="url(#pg)"/>
<rect x="50" y="44" width="115" height="25" fill="#fff"/>
<rect x="107" y="69" width="2" height="39" fill="#fff"/>
<rect x="52.5" y="45.5" width="110" height="20" fill="#fff" stroke="#aaa" shape-rendering="crispEdges"/>
<rect x="53.5" y="46.5" width="19" height="18" fill="url(#bg)" stroke="#c8c8c8" shape-rendering="crispEdges"/>
<rect x="142.5" y="46.5" width="19" height="18" fill="url(#bg)" stroke="#c8c8c8" shape-rendering="crispEdges"/>
<polygon points="59.5,53 65.5,53 62.5,56.5" fill="#4050c0"/>
<polygon points="148.5,56.5 154.5,56.5 151.5,53" fill="#4050c0"/>
<rect x="2" y="68" width="44" height="1" fill="#8c8cf0" shape-rendering="crispEdges"/>
<rect x="169" y="68" width="44" height="1" fill="#8c8cf0" shape-rendering="crispEdges"/>
<text x="23.3" y="60" font-size="12" fill="#fff" text-anchor="middle" textLength="26" lengthAdjust="spacingAndGlyphs">SELL</text>
<text x="190.2" y="60" font-size="12" fill="#fff" text-anchor="middle" textLength="23" lengthAdjust="spacingAndGlyphs">BUY</text>
<text x="137.3" y="59" font-size="12" fill="#000" text-anchor="end">1.00</text>
<text x="14.5" y="99" font-size="12" font-weight="bold" fill="#fff" textLength="34.5" lengthAdjust="spacingAndGlyphs">25019</text>
<text x="52.5" y="99.3" font-size="34" fill="#fff" textLength="23.5" lengthAdjust="spacingAndGlyphs">.5</text>
<text x="124.5" y="99" font-size="12" font-weight="bold" fill="#fff" textLength="34.5" lengthAdjust="spacingAndGlyphs">25032</text>
<text x="163.5" y="99.3" font-size="34" fill="#fff" textLength="23.5" lengthAdjust="spacingAndGlyphs">.5</text>
</g>

<g id="toolbar">
<rect x="0" y="0" width="1732" height="20" fill="#f0f0f0"/>
<rect x="0" y="19" width="1732" height="1" fill="#f7f7f7" shape-rendering="crispEdges"/>
<rect x="0" y="20" width="1732" height="1" fill="#a8a8a8" shape-rendering="crispEdges"/>
<rect x="0" y="21" width="1732" height="1" fill="#6e6e6e" shape-rendering="crispEdges"/>
<rect x="0" y="22" width="1732" height="2" fill="#ffffff" shape-rendering="crispEdges"/>
<rect x="-2" y="1.4" width="10.4" height="13" rx="0.8" fill="#fff" stroke="#2f78c0" stroke-width="1.4"/>
<rect x="0" y="3.1" width="7" height="0.9" fill="#bcd0f4"/>
<rect x="0" y="5.2" width="7" height="0.9" fill="#bcd0f4"/>
<rect x="0" y="7.3" width="7" height="0.9" fill="#bcd0f4"/>
<rect x="0" y="9.3" width="7" height="0.9" fill="#bcd0f4"/>
<rect x="21.9" y="0.3" width="11.4" height="13" fill="#fefefe" stroke="#b4ac98" stroke-width="1"/>
<rect x="21.4" y="-0.5" width="12.4" height="1" fill="#a8a090"/>
<path d="M24.5 2.2v5.2M23.5 6.5h1M30.8 2.2v3M30.8 3.2h1" stroke="#505860" stroke-width="1" fill="none"/>
<line x1="33.6" y1="12.4" x2="37.9" y2="16.3" stroke="#c08c10" stroke-width="2.8" stroke-linecap="butt"/>
<line x1="33.9" y1="12.1" x2="38.2" y2="16" stroke="#f0cc50" stroke-width="0.9"/>
<circle cx="29.5" cy="8.9" r="4.9" fill="#d8ecf8" fill-opacity="0.92" stroke="#5a90e0" stroke-width="1.1" stroke-dasharray="2.2 0.5"/>
<path d="M28.2 6.5v4.6M29.8 5.8v5.6" stroke="#98a8b8" stroke-width="1.1"/>
<rect x="46" y="0" width="1" height="18" fill="#a0a0a0" shape-rendering="crispEdges"/>
<path d="M56.5 -0.5h8l3.3 3.3v10.7h-11.3z" fill="#fdfdfd" stroke="#808080" stroke-width="1"/>
<path d="M64.5 -0.5v3.3h3.3" fill="#e8e8e8" stroke="#808080" stroke-width="0.8"/>
<rect x="58.2" y="2.2" width="2.6" height="1.4" fill="#606060"/>
<path d="M58.2 6.4h6M58.2 8.5h5M58.2 10.5h3" stroke="#808080" stroke-width="1"/>
<path d="M64.3 6.3h3.6v4h4.2v3.6h-4.2v4h-3.6v-4h-4.1v-3.6h4.1z" fill="url(#gplus)" stroke="#0a8a0a" stroke-width="0.9"/>
<text x="74.6" y="11.5" font-size="12" font-weight="500" fill="#000" textLength="36.3" lengthAdjust="spacingAndGlyphs">新订单</text>
<path d="M128.6 1.1 L138.3 7.4 L138.6 9.6 L131.3 15.9 L122.9 10.1 L123.2 8.6 C125.8 6.4 127.6 3.6 128.6 1.1Z" fill="#b87c10" stroke="#986004" stroke-width="0.9" stroke-linejoin="round"/>
<path d="M129 2.6 L137.3 7.9 L131.2 13 L124.6 8.7 C126.6 6.8 128.2 4.6 129 2.6Z" fill="url(#gbook)"/>
<path d="M123.6 9.4 L131.2 14.6 L137.9 8.8" fill="none" stroke="#f4dc88" stroke-width="1.1"/>
<path d="M153 0 L156.4 1.4 L164 1 L164 9.4 L156.4 10 L153 8.6Z" fill="#1aa0f8" stroke="#0878d0" stroke-width="0.6"/>
<path d="M153 0 L156.4 1.4 L156.4 10 L153 8.6Z" fill="#0a88e8"/>
<path d="M157.5 4.2 L163 3.8 L163 5.2 L157.5 5.6Z" fill="#e8f6ff"/><path d="M157.5 7 L163 6.7 L163 7.6 L157.5 7.9Z" fill="#b8e0fc"/>
<path d="M154 15.6 a2.9 2.9 0 0 1 -0.4 -5.7 a3.4 3.4 0 0 1 6 -1.4 a2.9 2.9 0 0 1 4.4 1.8 a2.7 2.7 0 0 1 0.2 5.3 z" fill="url(#gcloud)" stroke="#3a5a9a" stroke-width="0.9"/>
<path d="M187 7.8 L187 15.8 A8 8 0 0 0 195 7.8 A8 8 0 0 0 187 -0.2Z" fill="url(#gsig)"/>
<circle cx="187" cy="7.8" r="7.6" fill="none" stroke="#7090e0" stroke-width="0.9" stroke-dasharray="2.4 1.2" stroke-opacity="0.75"/>
<circle cx="187" cy="7.8" r="5" fill="none" stroke="#5078d8" stroke-width="1" stroke-dasharray="2 1" stroke-opacity="0.75"/>
<path d="M187 0.2 A7.6 7.6 0 0 1 188 15.3" fill="none" stroke="#2c9038" stroke-width="1" stroke-opacity="0.8"/>
<path d="M187 2.8 A5 5 0 0 1 188 12.7" fill="none" stroke="#58a860" stroke-width="0.9" stroke-opacity="0.8"/>
<circle cx="187" cy="7.8" r="2" fill="#2458d0"/>
<rect x="187" y="8" width="1.5" height="7.8" fill="#18a018"/>
<path d="M206.4 7.2 L221.8 6.8 L221.6 9 L214.4 15.9 L213 15.9 L206.8 9Z" fill="url(#gface)" stroke="#c89010" stroke-width="0.7" stroke-linejoin="round"/>
<ellipse cx="214.1" cy="5" rx="8" ry="2.4" fill="#52ace4" stroke="#1a7aa8" stroke-width="0.8"/>
<path d="M210.4 4.6 C210.4 -2 217.3 -2 217.3 4.6 C215 5.6 212.6 5.6 210.4 4.6Z" fill="#6cc0ec" stroke="#1a7aa8" stroke-width="0.6"/>
<circle cx="218.5" cy="11.7" r="4" fill="#e42808" stroke="#b01000" stroke-width="0.6"/>
<rect x="216.9" y="10.1" width="3.2" height="3.2" fill="#fff"/>
<text x="227.3" y="11.5" font-size="12" font-weight="500" fill="#000" textLength="47" lengthAdjust="spacingAndGlyphs">自动交易</text>
<rect x="282" y="0" width="1" height="20" fill="#8c8c8c" shape-rendering="crispEdges"/>
<rect x="286" y="0" width="3" height="1" fill="#a8a8a8" shape-rendering="crispEdges"/>
<rect x="286" y="2" width="3" height="1" fill="#a8a8a8" shape-rendering="crispEdges"/>
<rect x="286" y="4" width="3" height="1" fill="#a8a8a8" shape-rendering="crispEdges"/>
<rect x="286" y="6" width="3" height="1" fill="#a8a8a8" shape-rendering="crispEdges"/>
<rect x="286" y="8" width="3" height="1" fill="#a8a8a8" shape-rendering="crispEdges"/>
<rect x="286" y="10" width="3" height="1" fill="#a8a8a8" shape-rendering="crispEdges"/>
<rect x="286" y="12" width="3" height="1" fill="#a8a8a8" shape-rendering="crispEdges"/>
<rect x="286" y="14" width="3" height="1" fill="#a8a8a8" shape-rendering="crispEdges"/>
<rect x="286" y="16" width="3" height="1" fill="#a8a8a8" shape-rendering="crispEdges"/>
<path d="M300.5 3 V16 M297.5 13.5 H311" stroke="#505050" stroke-width="1.2" fill="none"/>
<polygon points="300.5,2 298.7,4.6 302.3,4.6" fill="#505050"/>
<polygon points="312,13.5 309.4,11.7 309.4,15.3" fill="#505050"/>
<path d="M306.8 3.8 V11 M306.8 4.2 H309 M304.4 10.6 H306.8" stroke="#20a020" stroke-width="1.3" fill="none"/>
<rect x="320" y="0" width="1" height="18" fill="#a0a0a0" shape-rendering="crispEdges"/>
<rect x="321" y="0" width="24" height="18" fill="#f8f8f8"/>
<path d="M328.5 3 V16 M325.5 13.5 H339" stroke="#505050" stroke-width="1.2" fill="none"/>
<polygon points="328.5,2 326.7,4.6 330.3,4.6" fill="#505050"/>
<polygon points="340,13.5 337.4,11.7 337.4,15.3" fill="#505050"/>
<rect x="334.1" y="0" width="1.2" height="11.7" fill="#109010"/>
<rect x="332.4" y="2.6" width="4.6" height="7" fill="#38e838" stroke="#109010" stroke-width="0.9"/>
<path d="M356.5 3 V16 M353.5 13.5 H367" stroke="#505050" stroke-width="1.2" fill="none"/>
<polygon points="356.5,2 354.7,4.6 358.3,4.6" fill="#505050"/>
<polygon points="368,13.5 365.4,11.7 365.4,15.3" fill="#505050"/>
<path d="M355.3 10.9 C357.5 9.5 359.5 5.2 361.2 5.2 C362.8 5.2 364.5 8 366.8 9.3" stroke="#20a020" stroke-width="1.3" fill="none"/>
<rect x="377" y="0" width="1" height="18" fill="#a0a0a0" shape-rendering="crispEdges"/>
<line x1="396.2" y1="10.3" x2="400.8" y2="14.8" stroke="#d8b020" stroke-width="2.6" stroke-linecap="round"/>
<line x1="396.40000000000003" y1="10.5" x2="400.6" y2="14.6" stroke="#f8e070" stroke-width="1" stroke-linecap="round"/>
<circle cx="391.8" cy="5.9" r="5.6" fill="#d8e8f8" stroke="#2a6ac8" stroke-width="1.05"/>
<rect x="388.5" y="5.2" width="6.6" height="1.5" fill="#3a78c8"/>
<rect x="391.05" y="2.6" width="1.5" height="6.6" fill="#3a78c8"/>
<line x1="424.59999999999997" y1="10.3" x2="429.2" y2="14.8" stroke="#d8b020" stroke-width="2.6" stroke-linecap="round"/>
<line x1="424.8" y1="10.5" x2="429.0" y2="14.6" stroke="#f8e070" stroke-width="1" stroke-linecap="round"/>
<circle cx="420.2" cy="5.9" r="5.6" fill="#d8e8f8" stroke="#2a6ac8" stroke-width="1.05"/>
<rect x="416.9" y="5.2" width="6.6" height="1.5" fill="#3a78c8"/>
<rect x="442.3" y="-0.4" width="7.6" height="7.6" fill="#38a028" stroke="#207010" stroke-width="0.5"/>
<rect x="443.3" y="2.2" width="5.6" height="3.9" fill="#fff"/>
<rect x="444.3" y="3.9" width="3.6" height="0.8" fill="#38a028" fill-opacity="0.8"/>
<rect x="450.4" y="-0.4" width="7.6" height="7.6" fill="#2860d8" stroke="#1840a8" stroke-width="0.5"/>
<rect x="451.4" y="2.2" width="5.6" height="3.9" fill="#fff"/>
<rect x="452.4" y="3.9" width="3.6" height="0.8" fill="#2860d8" fill-opacity="0.8"/>
<rect x="442.3" y="7.9" width="7.6" height="7.6" fill="#2860d8" stroke="#1840a8" stroke-width="0.5"/>
<rect x="443.3" y="10.5" width="5.6" height="3.9" fill="#fff"/>
<rect x="444.3" y="12.2" width="3.6" height="0.8" fill="#2860d8" fill-opacity="0.8"/>
<rect x="450.4" y="7.9" width="7.6" height="7.6" fill="#38a028" stroke="#207010" stroke-width="0.5"/>
<rect x="451.4" y="10.5" width="5.6" height="3.9" fill="#fff"/>
<rect x="452.4" y="12.2" width="3.6" height="0.8" fill="#38a028" fill-opacity="0.8"/>
<rect x="467" y="0" width="1" height="18" fill="#a0a0a0" shape-rendering="crispEdges"/>
<rect x="472" y="0" width="1" height="18" fill="#a0a0a0" shape-rendering="crispEdges"/>
<rect x="473" y="0" width="24" height="18" fill="#f8f8f8"/>
<path d="M480.5 3 V16 M477.5 13.5 H491" stroke="#505050" stroke-width="1.2" fill="none"/>
<polygon points="480.5,2 478.7,4.6 482.3,4.6" fill="#505050"/>
<polygon points="492,13.5 489.4,11.7 489.4,15.3" fill="#505050"/>
<path d="M485 4.6 L489.2 7.8 L485 11 Z" fill="#58e058" stroke="#109010" stroke-width="0.9"/>
<rect x="500" y="0" width="1" height="18" fill="#a0a0a0" shape-rendering="crispEdges"/>
<rect x="501" y="0" width="24" height="18" fill="#f8f8f8"/>
<path d="M508.5 3 V16 M505.5 13.5 H519" stroke="#505050" stroke-width="1.2" fill="none"/>
<polygon points="508.5,2 506.7,4.6 510.3,4.6" fill="#505050"/>
<polygon points="520,13.5 517.4,11.7 517.4,15.3" fill="#505050"/>
<rect x="514" y="2" width="1.3" height="9.8" fill="#1870b0"/>
<path d="M520.2 7.6 H516" stroke="#e05010" stroke-width="1.2"/><polygon points="515.4,7.6 518.4,5.6 518.4,9.6" fill="#e05010"/>
<rect x="529" y="0" width="1" height="18" fill="#a0a0a0" shape-rendering="crispEdges"/>
<path d="M539.5 -1h7.5l3.5 3.5v10.5h-11z" fill="#fdfdfd" stroke="#8a8a8a" stroke-width="1"/>
<path d="M543.5 1.5 c-1.6 0 -1.6 1 -1.6 2.5 c0 1.2 -0.8 1.6 -0.8 1.6 c0 0 0.8 0.4 0.8 1.6 c0 1.5 0 2.5 1.6 2.5" stroke="#606060" stroke-width="0.9" fill="none"/>
<path d="M547.5 5.9h3.6v4h4.2v3.6h-4.2v4h-3.6v-4h-4.1v-3.6h4.1z" fill="url(#gplus)" stroke="#0a8a0a" stroke-width="0.9"/>
<polygon points="560.8,7 566.8,7 563.8,10.5" fill="#000"/>
<circle cx="584.7" cy="8" r="8" fill="#0c4aa0"/>
<circle cx="584.7" cy="8" r="7.5" fill="url(#gclock)"/>
<circle cx="584.7" cy="8" r="5.3" fill="#fcfcfc" stroke="#8ab0e0" stroke-width="0.5"/>
<path d="M584.7 3.6v1M584.7 11.4v1M580.3 8h1M588.1 8h1" stroke="#a0a8b0" stroke-width="0.7"/>
<path d="M584.7 4.6 V8.3 H587.3" stroke="#202020" stroke-width="1.1" fill="none"/>
<path d="M583 10.4 h3.4" stroke="#4080e0" stroke-width="0.8"/>
<rect x="583.2" y="-1.5" width="3" height="2" fill="#1a68d0"/>
<polygon points="599.8,7 605.8,7 602.8,10.5" fill="#000"/>
<rect x="616.6" y="1.6" width="14.8" height="12.8" fill="#fff" stroke="#3a78c8" stroke-width="1.5"/>
<rect x="617" y="2" width="14" height="1.8" fill="#a8c8f0"/>
<rect x="617" y="8.3" width="14" height="1.2" fill="#3a78c8"/>
<path d="M618.5 7.2 L621 6.4 L623.5 5.4 L626 6.3 L629.5 5.4" stroke="#a02010" stroke-width="1.2" fill="none"/>
<path d="M619 12.6 L621.5 11.9 L623.5 12.6 L626.5 10.5 L629.5 12.4" stroke="#109020" stroke-width="1.2" fill="none"/>
<polygon points="638.7,7 644.7,7 641.7,10.5" fill="#000"/>
<rect x="650" y="0" width="1" height="20" fill="#8c8c8c" shape-rendering="crispEdges"/>
<rect x="654" y="0" width="3" height="1" fill="#a8a8a8" shape-rendering="crispEdges"/>
<rect x="654" y="2" width="3" height="1" fill="#a8a8a8" shape-rendering="crispEdges"/>
<rect x="654" y="4" width="3" height="1" fill="#a8a8a8" shape-rendering="crispEdges"/>
<rect x="654" y="6" width="3" height="1" fill="#a8a8a8" shape-rendering="crispEdges"/>
<rect x="654" y="8" width="3" height="1" fill="#a8a8a8" shape-rendering="crispEdges"/>
<rect x="654" y="10" width="3" height="1" fill="#a8a8a8" shape-rendering="crispEdges"/>
<rect x="654" y="12" width="3" height="1" fill="#a8a8a8" shape-rendering="crispEdges"/>
<rect x="654" y="14" width="3" height="1" fill="#a8a8a8" shape-rendering="crispEdges"/>
<rect x="654" y="16" width="3" height="1" fill="#a8a8a8" shape-rendering="crispEdges"/>
<rect x="660" y="0" width="1" height="18" fill="#c8c8c8" shape-rendering="crispEdges"/>
<rect x="661" y="0" width="24" height="18" fill="#f8f8f8"/>
<polygon points="668,0.8 668,11.9 670.8,9.3 673.4,15.2 675.5,14.3 672.9,8.6 676.6,8.6" fill="#505050"/>
<path d="M693 8.4 H699.2 M701.8 8.4 H708 M700.5 0.8 V7 M700.5 9.8 V16" stroke="#404040" stroke-width="1.2" fill="none"/>
<rect x="717" y="0" width="1" height="18" fill="#a0a0a0" shape-rendering="crispEdges"/>
<rect x="734" y="2" width="1.3" height="13.2" fill="#404040"/>
<rect x="757" y="7.8" width="12.2" height="1.3" fill="#404040"/>
<line x1="784.6" y1="15.1" x2="797.2" y2="2.9" stroke="#404040" stroke-width="1.2"/>
<path d="M811.5 9.5 L822 3.4 M813 14.5 L824 8 M814.2 8 L813.4 13.8 M817.3 6.3 L816.5 12.3 M820.6 4.4 L819.7 10.5 M822.5 0 L821.7 5" stroke="#404040" stroke-width="1" fill="none"/>
<text x="821.6" y="16.8" font-size="6.8" font-weight="bold" fill="#303030">E</text>
<line x1="840" y1="1.3" x2="853" y2="1.3" stroke="#404040" stroke-width="1" stroke-dasharray="1.2 1"/>
<line x1="840" y1="4.6" x2="853" y2="4.6" stroke="#404040" stroke-width="1" stroke-dasharray="1.2 1"/>
<line x1="840" y1="8.4" x2="853" y2="8.4" stroke="#404040" stroke-width="1" stroke-dasharray="1.2 1"/>
<line x1="840" y1="12.6" x2="848.5" y2="12.6" stroke="#404040" stroke-width="1" stroke-dasharray="1.2 1"/>
<text x="849.6" y="16.8" font-size="6.8" font-weight="bold" fill="#303030">F</text>
<text x="874.6" y="13" font-size="13" fill="#505050" text-anchor="middle" stroke="#505050" stroke-width="0.4">A</text>
<rect x="897.3" y="2.4" width="11.2" height="12.2" fill="none" stroke="#505050" stroke-width="1" stroke-dasharray="1 1.1"/>
<path d="M898.8 5.6 H907.2 M903 5.6 V13" stroke="#505050" stroke-width="1.5" fill="none"/>
<polygon points="928,1.8 931.6,5.2 928,6.8 924.4,5.2" fill="#404040"/>
<polygon points="934.7,14.8 938.3,11.2 934.7,9.8 931.1,11.2" fill="#404040"/>
<path d="M926.5 9.6 L928.6 11.4 L932.8 6.4" stroke="#404040" stroke-width="1.2" fill="none"/>
<polygon points="944.6,7 950.6,7 947.6,10.5" fill="#000"/>
<rect x="956" y="0" width="1" height="20" fill="#8c8c8c" shape-rendering="crispEdges"/>
<rect x="960" y="0" width="3" height="1" fill="#a8a8a8" shape-rendering="crispEdges"/>
<rect x="960" y="2" width="3" height="1" fill="#a8a8a8" shape-rendering="crispEdges"/>
<rect x="960" y="4" width="3" height="1" fill="#a8a8a8" shape-rendering="crispEdges"/>
<rect x="960" y="6" width="3" height="1" fill="#a8a8a8" shape-rendering="crispEdges"/>
<rect x="960" y="8" width="3" height="1" fill="#a8a8a8" shape-rendering="crispEdges"/>
<rect x="960" y="10" width="3" height="1" fill="#a8a8a8" shape-rendering="crispEdges"/>
<rect x="960" y="12" width="3" height="1" fill="#a8a8a8" shape-rendering="crispEdges"/>
<rect x="960" y="14" width="3" height="1" fill="#a8a8a8" shape-rendering="crispEdges"/>
<rect x="960" y="16" width="3" height="1" fill="#a8a8a8" shape-rendering="crispEdges"/>
<rect x="1135" y="0" width="25" height="18" fill="#f8f8f8"/>
<rect x="1134" y="0" width="1" height="18" fill="#a0a0a0" shape-rendering="crispEdges"/>
<text x="971.7" y="11.8" font-size="10" fill="#303030" stroke="#303030" stroke-width="0.2" textLength="12.2" lengthAdjust="spacingAndGlyphs">M1</text>
<text x="999.8" y="11.8" font-size="10" fill="#303030" stroke="#303030" stroke-width="0.2" textLength="12.5" lengthAdjust="spacingAndGlyphs">M5</text>
<text x="1025.7" y="11.8" font-size="10" fill="#303030" stroke="#303030" stroke-width="0.2" textLength="17.2" lengthAdjust="spacingAndGlyphs">M15</text>
<text x="1053.8" y="11.8" font-size="10" fill="#303030" stroke="#303030" stroke-width="0.2" textLength="17.2" lengthAdjust="spacingAndGlyphs">M30</text>
<text x="1084.8" y="11.8" font-size="10" fill="#303030" stroke="#303030" stroke-width="0.2" textLength="11.3" lengthAdjust="spacingAndGlyphs">H1</text>
<text x="1111.5" y="11.8" font-size="10" fill="#303030" stroke="#303030" stroke-width="0.2" textLength="12.7" lengthAdjust="spacingAndGlyphs">H4</text>
<text x="1140.2" y="11.8" font-size="10" fill="#303030" stroke="#303030" stroke-width="0.2" textLength="12.0" lengthAdjust="spacingAndGlyphs">D1</text>
<text x="1167.9" y="11.8" font-size="10" fill="#303030" stroke="#303030" stroke-width="0.2" textLength="14.8" lengthAdjust="spacingAndGlyphs">W1</text>
<text x="1194.9" y="11.8" font-size="10" fill="#303030" stroke="#303030" stroke-width="0.2" textLength="14.4" lengthAdjust="spacingAndGlyphs">MN</text>
<rect x="1217" y="0" width="1" height="18" fill="#a0a0a0" shape-rendering="crispEdges"/>
<line x1="1680.3" y1="12.4" x2="1684.4" y2="8.4" stroke="#2a60d0" stroke-width="2.2" stroke-linecap="round"/>
<circle cx="1687.4" cy="5.5" r="3.7" fill="#fbfbff" stroke="#2a60d0" stroke-width="1.1"/>
<path d="M1714 2.2 a6.6 4.6 0 1 1 10.4 6.6 l0.4 2.8 l-2.6 -1.8 a6.6 4.6 0 0 1 -8.2 -7.6z" fill="url(#gbub)" stroke="#8c8c8c" stroke-width="0.9"/>
<path d="M1708.6 12 a5.2 3.6 0 1 1 2.6 0.6 l-2.9 2 z" fill="url(#gbub)" stroke="#8c8c8c" stroke-width="0.9"/>
</g>
</svg>
</body></html>
